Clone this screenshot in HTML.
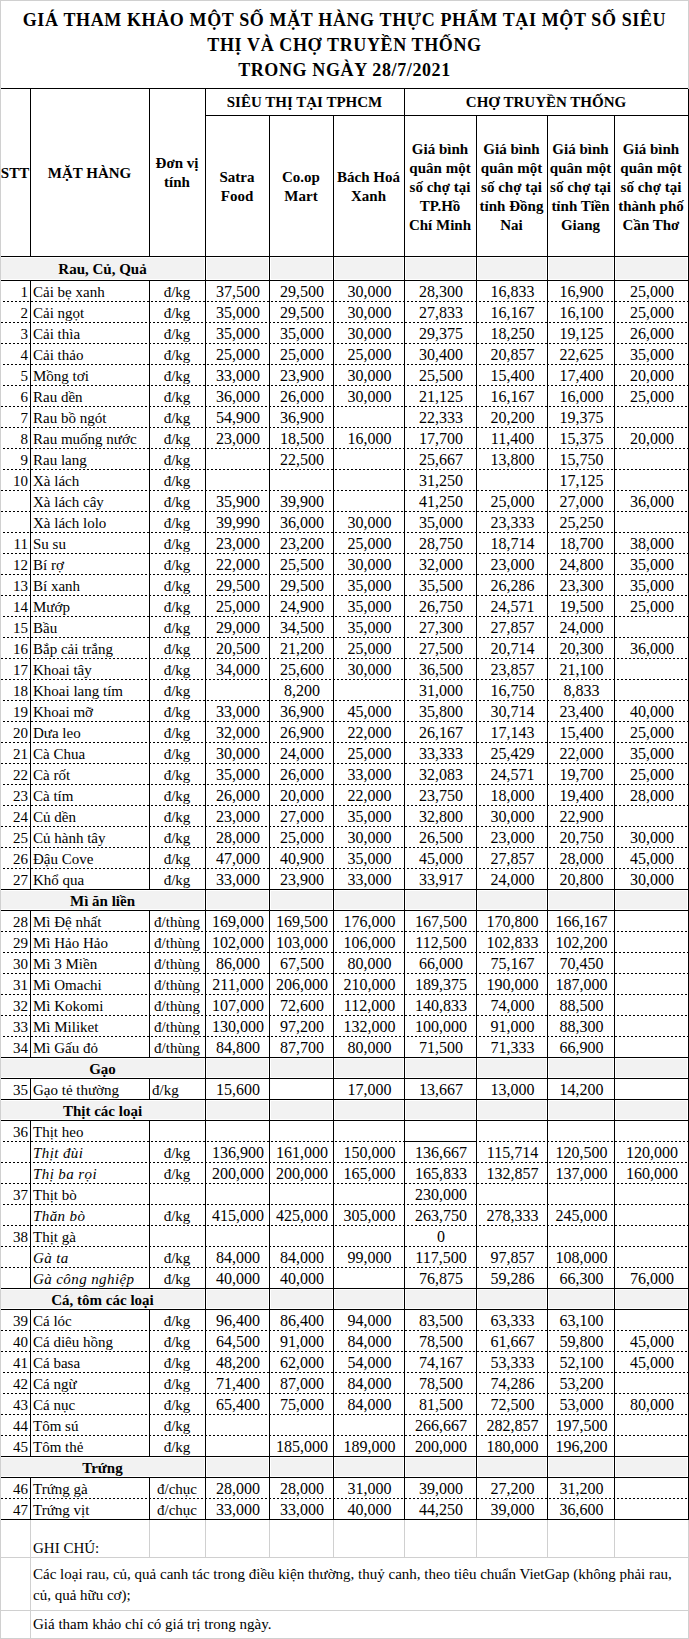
<!DOCTYPE html>
<html><head><meta charset="utf-8"><title>Giá tham khảo</title><style>
html,body{margin:0;padding:0;background:#fff}
body{width:689px;height:1639px;position:relative;overflow:hidden;font-family:'Liberation Serif', serif;font-size:15px;color:#000}
i{position:absolute;display:block}
i.d{height:1px;background-image:linear-gradient(90deg,#000 50%,transparent 50%);background-size:4px 1px;background-repeat:repeat-x}
b{position:absolute;display:block;height:30px;line-height:30px;white-space:nowrap;font-weight:normal}
b.h{font-weight:bold}
b.it{font-style:italic;letter-spacing:0.4px}
b.t{font-weight:bold;font-size:18px;letter-spacing:0.62px}
b.n{font-size:16px}
</style></head>
<body>
<b class="t" style="left:0px;top:5px;width:689px;text-align:center">GIÁ THAM KHẢO MỘT SỐ MẶT HÀNG THỰC PHẨM TẠI MỘT SỐ SIÊU</b><b class="t" style="left:0px;top:30px;width:689px;text-align:center">THỊ VÀ CHỢ TRUYỀN THỐNG</b><b class="t" style="left:0px;top:55px;width:689px;text-align:center">TRONG NGÀY 28/7/2021</b><i style="left:1px;top:88px;width:688px;height:1px;background:#000"></i><i style="left:205px;top:115px;width:484px;height:1px;background:#000"></i><i style="left:1px;top:256px;width:688px;height:1px;background:#000"></i><i style="left:30px;top:88px;width:1px;height:169px;background:#000"></i><i style="left:149px;top:88px;width:1px;height:169px;background:#000"></i><i style="left:205px;top:88px;width:1px;height:169px;background:#000"></i><i style="left:404px;top:88px;width:1px;height:169px;background:#000"></i><i style="left:688px;top:88px;width:1px;height:169px;background:#000"></i><i style="left:269px;top:115px;width:1px;height:142px;background:#000"></i><i style="left:333px;top:115px;width:1px;height:142px;background:#000"></i><i style="left:476px;top:115px;width:1px;height:142px;background:#000"></i><i style="left:547px;top:115px;width:1px;height:142px;background:#000"></i><i style="left:614px;top:115px;width:1px;height:142px;background:#000"></i><b class="h" style="left:205px;top:87px;width:199px;text-align:center">SIÊU THỊ TẠI TPHCM</b><b class="h" style="left:404px;top:87px;width:284px;text-align:center">CHỢ TRUYỀN THỐNG</b><b class="h" style="left:0px;top:158px;width:30px;text-align:center">STT</b><b class="h" style="left:30px;top:158px;width:119px;text-align:center">MẶT HÀNG</b><b class="h" style="left:149px;top:148px;width:56px;text-align:center">Đơn vị</b><b class="h" style="left:149px;top:167px;width:56px;text-align:center">tính</b><b class="h" style="left:205px;top:162px;width:64px;text-align:center">Satra</b><b class="h" style="left:205px;top:181px;width:64px;text-align:center">Food</b><b class="h" style="left:269px;top:162px;width:64px;text-align:center">Co.op</b><b class="h" style="left:269px;top:181px;width:64px;text-align:center">Mart</b><b class="h" style="left:333px;top:162px;width:71px;text-align:center">Bách Hoá</b><b class="h" style="left:333px;top:181px;width:71px;text-align:center">Xanh</b><b class="h" style="left:404px;top:134px;width:72px;text-align:center">Giá bình</b><b class="h" style="left:404px;top:153px;width:72px;text-align:center">quân một</b><b class="h" style="left:404px;top:172px;width:72px;text-align:center">số chợ tại</b><b class="h" style="left:404px;top:191px;width:72px;text-align:center">TP.Hồ</b><b class="h" style="left:404px;top:210px;width:72px;text-align:center">Chí Minh</b><b class="h" style="left:476px;top:134px;width:71px;text-align:center">Giá bình</b><b class="h" style="left:476px;top:153px;width:71px;text-align:center">quân một</b><b class="h" style="left:476px;top:172px;width:71px;text-align:center">số chợ tại</b><b class="h" style="left:476px;top:191px;width:71px;text-align:center">tỉnh Đồng</b><b class="h" style="left:476px;top:210px;width:71px;text-align:center">Nai</b><b class="h" style="left:547px;top:134px;width:67px;text-align:center">Giá bình</b><b class="h" style="left:547px;top:153px;width:67px;text-align:center">quân một</b><b class="h" style="left:547px;top:172px;width:67px;text-align:center">số chợ tại</b><b class="h" style="left:547px;top:191px;width:67px;text-align:center">tỉnh Tiền</b><b class="h" style="left:547px;top:210px;width:67px;text-align:center">Giang</b><b class="h" style="left:614px;top:134px;width:74px;text-align:center">Giá bình</b><b class="h" style="left:614px;top:153px;width:74px;text-align:center">quân một</b><b class="h" style="left:614px;top:172px;width:74px;text-align:center">số chợ tại</b><b class="h" style="left:614px;top:191px;width:74px;text-align:center">thành phố</b><b class="h" style="left:614px;top:210px;width:74px;text-align:center">Cần Thơ</b><i style="left:1px;top:258px;width:203px;height:21px;background:#f2f2f2"></i><i style="left:207px;top:258px;width:61px;height:21px;background:#f2f2f2"></i><i style="left:271px;top:258px;width:61px;height:21px;background:#f2f2f2"></i><i style="left:335px;top:258px;width:68px;height:21px;background:#f2f2f2"></i><i style="left:406px;top:258px;width:69px;height:21px;background:#f2f2f2"></i><i style="left:478px;top:258px;width:68px;height:21px;background:#f2f2f2"></i><i style="left:549px;top:258px;width:64px;height:21px;background:#f2f2f2"></i><i style="left:616px;top:258px;width:71px;height:21px;background:#f2f2f2"></i><i style="left:1px;top:256px;width:688px;height:1px;background:#000"></i><i style="left:1px;top:280px;width:688px;height:1px;background:#000"></i><i style="left:205px;top:256px;width:1px;height:25px;background:#000"></i><i style="left:269px;top:256px;width:1px;height:25px;background:#000"></i><i style="left:333px;top:256px;width:1px;height:25px;background:#000"></i><i style="left:404px;top:256px;width:1px;height:25px;background:#000"></i><i style="left:476px;top:256px;width:1px;height:25px;background:#000"></i><i style="left:547px;top:256px;width:1px;height:25px;background:#000"></i><i style="left:614px;top:256px;width:1px;height:25px;background:#000"></i><i style="left:688px;top:256px;width:1px;height:25px;background:#000"></i><b class="h" style="left:0px;top:254px;width:205px;text-align:center">Rau, Củ, Quả</b><i style="left:30px;top:280px;width:1px;height:22px;background:#000"></i><i style="left:149px;top:280px;width:1px;height:22px;background:#000"></i><i style="left:205px;top:280px;width:1px;height:22px;background:#000"></i><i style="left:269px;top:280px;width:1px;height:22px;background:#000"></i><i style="left:333px;top:280px;width:1px;height:22px;background:#000"></i><i style="left:404px;top:280px;width:1px;height:22px;background:#000"></i><i style="left:476px;top:280px;width:1px;height:22px;background:#000"></i><i style="left:547px;top:280px;width:1px;height:22px;background:#000"></i><i style="left:614px;top:280px;width:1px;height:22px;background:#000"></i><i style="left:688px;top:280px;width:1px;height:22px;background:#000"></i><b style="left:0px;top:277px;width:28px;text-align:right">1</b><b style="left:33px;top:277px;width:116px;text-align:left">Cải bẹ xanh</b><b style="left:149px;top:277px;width:56px;text-align:center">đ/kg</b><b class="n" style="left:206px;top:277px;width:64px;text-align:center">37,500</b><b class="n" style="left:270px;top:277px;width:64px;text-align:center">29,500</b><b class="n" style="left:334px;top:277px;width:71px;text-align:center">30,000</b><b class="n" style="left:405px;top:277px;width:72px;text-align:center">28,300</b><b class="n" style="left:477px;top:277px;width:71px;text-align:center">16,833</b><b class="n" style="left:548px;top:277px;width:67px;text-align:center">16,900</b><b class="n" style="left:615px;top:277px;width:74px;text-align:center">25,000</b><i class="d" style="left:1px;top:301px;width:687px;background-position:2px 0"></i><i style="left:30px;top:301px;width:1px;height:22px;background:#000"></i><i style="left:149px;top:301px;width:1px;height:22px;background:#000"></i><i style="left:205px;top:301px;width:1px;height:22px;background:#000"></i><i style="left:269px;top:301px;width:1px;height:22px;background:#000"></i><i style="left:333px;top:301px;width:1px;height:22px;background:#000"></i><i style="left:404px;top:301px;width:1px;height:22px;background:#000"></i><i style="left:476px;top:301px;width:1px;height:22px;background:#000"></i><i style="left:547px;top:301px;width:1px;height:22px;background:#000"></i><i style="left:614px;top:301px;width:1px;height:22px;background:#000"></i><i style="left:688px;top:301px;width:1px;height:22px;background:#000"></i><b style="left:0px;top:298px;width:28px;text-align:right">2</b><b style="left:33px;top:298px;width:116px;text-align:left">Cải ngọt</b><b style="left:149px;top:298px;width:56px;text-align:center">đ/kg</b><b class="n" style="left:206px;top:298px;width:64px;text-align:center">35,000</b><b class="n" style="left:270px;top:298px;width:64px;text-align:center">29,500</b><b class="n" style="left:334px;top:298px;width:71px;text-align:center">30,000</b><b class="n" style="left:405px;top:298px;width:72px;text-align:center">27,833</b><b class="n" style="left:477px;top:298px;width:71px;text-align:center">16,167</b><b class="n" style="left:548px;top:298px;width:67px;text-align:center">16,100</b><b class="n" style="left:615px;top:298px;width:74px;text-align:center">25,000</b><i class="d" style="left:1px;top:322px;width:687px;background-position:0px 0"></i><i style="left:30px;top:322px;width:1px;height:22px;background:#000"></i><i style="left:149px;top:322px;width:1px;height:22px;background:#000"></i><i style="left:205px;top:322px;width:1px;height:22px;background:#000"></i><i style="left:269px;top:322px;width:1px;height:22px;background:#000"></i><i style="left:333px;top:322px;width:1px;height:22px;background:#000"></i><i style="left:404px;top:322px;width:1px;height:22px;background:#000"></i><i style="left:476px;top:322px;width:1px;height:22px;background:#000"></i><i style="left:547px;top:322px;width:1px;height:22px;background:#000"></i><i style="left:614px;top:322px;width:1px;height:22px;background:#000"></i><i style="left:688px;top:322px;width:1px;height:22px;background:#000"></i><b style="left:0px;top:319px;width:28px;text-align:right">3</b><b style="left:33px;top:319px;width:116px;text-align:left">Cải thìa</b><b style="left:149px;top:319px;width:56px;text-align:center">đ/kg</b><b class="n" style="left:206px;top:319px;width:64px;text-align:center">35,000</b><b class="n" style="left:270px;top:319px;width:64px;text-align:center">35,000</b><b class="n" style="left:334px;top:319px;width:71px;text-align:center">30,000</b><b class="n" style="left:405px;top:319px;width:72px;text-align:center">29,375</b><b class="n" style="left:477px;top:319px;width:71px;text-align:center">18,250</b><b class="n" style="left:548px;top:319px;width:67px;text-align:center">19,125</b><b class="n" style="left:615px;top:319px;width:74px;text-align:center">26,000</b><i class="d" style="left:1px;top:343px;width:687px;background-position:0px 0"></i><i style="left:30px;top:343px;width:1px;height:22px;background:#000"></i><i style="left:149px;top:343px;width:1px;height:22px;background:#000"></i><i style="left:205px;top:343px;width:1px;height:22px;background:#000"></i><i style="left:269px;top:343px;width:1px;height:22px;background:#000"></i><i style="left:333px;top:343px;width:1px;height:22px;background:#000"></i><i style="left:404px;top:343px;width:1px;height:22px;background:#000"></i><i style="left:476px;top:343px;width:1px;height:22px;background:#000"></i><i style="left:547px;top:343px;width:1px;height:22px;background:#000"></i><i style="left:614px;top:343px;width:1px;height:22px;background:#000"></i><i style="left:688px;top:343px;width:1px;height:22px;background:#000"></i><b style="left:0px;top:340px;width:28px;text-align:right">4</b><b style="left:33px;top:340px;width:116px;text-align:left">Cải thảo</b><b style="left:149px;top:340px;width:56px;text-align:center">đ/kg</b><b class="n" style="left:206px;top:340px;width:64px;text-align:center">25,000</b><b class="n" style="left:270px;top:340px;width:64px;text-align:center">25,000</b><b class="n" style="left:334px;top:340px;width:71px;text-align:center">25,000</b><b class="n" style="left:405px;top:340px;width:72px;text-align:center">30,400</b><b class="n" style="left:477px;top:340px;width:71px;text-align:center">20,857</b><b class="n" style="left:548px;top:340px;width:67px;text-align:center">22,625</b><b class="n" style="left:615px;top:340px;width:74px;text-align:center">35,000</b><i class="d" style="left:1px;top:364px;width:687px;background-position:2px 0"></i><i style="left:30px;top:364px;width:1px;height:22px;background:#000"></i><i style="left:149px;top:364px;width:1px;height:22px;background:#000"></i><i style="left:205px;top:364px;width:1px;height:22px;background:#000"></i><i style="left:269px;top:364px;width:1px;height:22px;background:#000"></i><i style="left:333px;top:364px;width:1px;height:22px;background:#000"></i><i style="left:404px;top:364px;width:1px;height:22px;background:#000"></i><i style="left:476px;top:364px;width:1px;height:22px;background:#000"></i><i style="left:547px;top:364px;width:1px;height:22px;background:#000"></i><i style="left:614px;top:364px;width:1px;height:22px;background:#000"></i><i style="left:688px;top:364px;width:1px;height:22px;background:#000"></i><b style="left:0px;top:361px;width:28px;text-align:right">5</b><b style="left:33px;top:361px;width:116px;text-align:left">Mồng tơi</b><b style="left:149px;top:361px;width:56px;text-align:center">đ/kg</b><b class="n" style="left:206px;top:361px;width:64px;text-align:center">33,000</b><b class="n" style="left:270px;top:361px;width:64px;text-align:center">23,900</b><b class="n" style="left:334px;top:361px;width:71px;text-align:center">30,000</b><b class="n" style="left:405px;top:361px;width:72px;text-align:center">25,500</b><b class="n" style="left:477px;top:361px;width:71px;text-align:center">15,400</b><b class="n" style="left:548px;top:361px;width:67px;text-align:center">17,400</b><b class="n" style="left:615px;top:361px;width:74px;text-align:center">20,000</b><i class="d" style="left:1px;top:385px;width:687px;background-position:2px 0"></i><i style="left:30px;top:385px;width:1px;height:22px;background:#000"></i><i style="left:149px;top:385px;width:1px;height:22px;background:#000"></i><i style="left:205px;top:385px;width:1px;height:22px;background:#000"></i><i style="left:269px;top:385px;width:1px;height:22px;background:#000"></i><i style="left:333px;top:385px;width:1px;height:22px;background:#000"></i><i style="left:404px;top:385px;width:1px;height:22px;background:#000"></i><i style="left:476px;top:385px;width:1px;height:22px;background:#000"></i><i style="left:547px;top:385px;width:1px;height:22px;background:#000"></i><i style="left:614px;top:385px;width:1px;height:22px;background:#000"></i><i style="left:688px;top:385px;width:1px;height:22px;background:#000"></i><b style="left:0px;top:382px;width:28px;text-align:right">6</b><b style="left:33px;top:382px;width:116px;text-align:left">Rau dền</b><b style="left:149px;top:382px;width:56px;text-align:center">đ/kg</b><b class="n" style="left:206px;top:382px;width:64px;text-align:center">36,000</b><b class="n" style="left:270px;top:382px;width:64px;text-align:center">26,000</b><b class="n" style="left:334px;top:382px;width:71px;text-align:center">30,000</b><b class="n" style="left:405px;top:382px;width:72px;text-align:center">21,125</b><b class="n" style="left:477px;top:382px;width:71px;text-align:center">16,167</b><b class="n" style="left:548px;top:382px;width:67px;text-align:center">16,000</b><b class="n" style="left:615px;top:382px;width:74px;text-align:center">25,000</b><i class="d" style="left:1px;top:406px;width:687px;background-position:0px 0"></i><i style="left:30px;top:406px;width:1px;height:22px;background:#000"></i><i style="left:149px;top:406px;width:1px;height:22px;background:#000"></i><i style="left:205px;top:406px;width:1px;height:22px;background:#000"></i><i style="left:269px;top:406px;width:1px;height:22px;background:#000"></i><i style="left:333px;top:406px;width:1px;height:22px;background:#000"></i><i style="left:404px;top:406px;width:1px;height:22px;background:#000"></i><i style="left:476px;top:406px;width:1px;height:22px;background:#000"></i><i style="left:547px;top:406px;width:1px;height:22px;background:#000"></i><i style="left:614px;top:406px;width:1px;height:22px;background:#000"></i><i style="left:688px;top:406px;width:1px;height:22px;background:#000"></i><b style="left:0px;top:403px;width:28px;text-align:right">7</b><b style="left:33px;top:403px;width:116px;text-align:left">Rau bồ ngót</b><b style="left:149px;top:403px;width:56px;text-align:center">đ/kg</b><b class="n" style="left:206px;top:403px;width:64px;text-align:center">54,900</b><b class="n" style="left:270px;top:403px;width:64px;text-align:center">36,900</b><b class="n" style="left:405px;top:403px;width:72px;text-align:center">22,333</b><b class="n" style="left:477px;top:403px;width:71px;text-align:center">20,200</b><b class="n" style="left:548px;top:403px;width:67px;text-align:center">19,375</b><i class="d" style="left:1px;top:427px;width:687px;background-position:0px 0"></i><i style="left:30px;top:427px;width:1px;height:22px;background:#000"></i><i style="left:149px;top:427px;width:1px;height:22px;background:#000"></i><i style="left:205px;top:427px;width:1px;height:22px;background:#000"></i><i style="left:269px;top:427px;width:1px;height:22px;background:#000"></i><i style="left:333px;top:427px;width:1px;height:22px;background:#000"></i><i style="left:404px;top:427px;width:1px;height:22px;background:#000"></i><i style="left:476px;top:427px;width:1px;height:22px;background:#000"></i><i style="left:547px;top:427px;width:1px;height:22px;background:#000"></i><i style="left:614px;top:427px;width:1px;height:22px;background:#000"></i><i style="left:688px;top:427px;width:1px;height:22px;background:#000"></i><b style="left:0px;top:424px;width:28px;text-align:right">8</b><b style="left:33px;top:424px;width:116px;text-align:left">Rau muống nước</b><b style="left:149px;top:424px;width:56px;text-align:center">đ/kg</b><b class="n" style="left:206px;top:424px;width:64px;text-align:center">23,000</b><b class="n" style="left:270px;top:424px;width:64px;text-align:center">18,500</b><b class="n" style="left:334px;top:424px;width:71px;text-align:center">16,000</b><b class="n" style="left:405px;top:424px;width:72px;text-align:center">17,700</b><b class="n" style="left:477px;top:424px;width:71px;text-align:center">11,400</b><b class="n" style="left:548px;top:424px;width:67px;text-align:center">15,375</b><b class="n" style="left:615px;top:424px;width:74px;text-align:center">20,000</b><i class="d" style="left:1px;top:448px;width:687px;background-position:2px 0"></i><i style="left:30px;top:448px;width:1px;height:22px;background:#000"></i><i style="left:149px;top:448px;width:1px;height:22px;background:#000"></i><i style="left:205px;top:448px;width:1px;height:22px;background:#000"></i><i style="left:269px;top:448px;width:1px;height:22px;background:#000"></i><i style="left:333px;top:448px;width:1px;height:22px;background:#000"></i><i style="left:404px;top:448px;width:1px;height:22px;background:#000"></i><i style="left:476px;top:448px;width:1px;height:22px;background:#000"></i><i style="left:547px;top:448px;width:1px;height:22px;background:#000"></i><i style="left:614px;top:448px;width:1px;height:22px;background:#000"></i><i style="left:688px;top:448px;width:1px;height:22px;background:#000"></i><b style="left:0px;top:445px;width:28px;text-align:right">9</b><b style="left:33px;top:445px;width:116px;text-align:left">Rau lang</b><b style="left:149px;top:445px;width:56px;text-align:center">đ/kg</b><b class="n" style="left:270px;top:445px;width:64px;text-align:center">22,500</b><b class="n" style="left:405px;top:445px;width:72px;text-align:center">25,667</b><b class="n" style="left:477px;top:445px;width:71px;text-align:center">13,800</b><b class="n" style="left:548px;top:445px;width:67px;text-align:center">15,750</b><i class="d" style="left:1px;top:469px;width:687px;background-position:2px 0"></i><i style="left:30px;top:469px;width:1px;height:22px;background:#000"></i><i style="left:149px;top:469px;width:1px;height:22px;background:#000"></i><i style="left:205px;top:469px;width:1px;height:22px;background:#000"></i><i style="left:269px;top:469px;width:1px;height:22px;background:#000"></i><i style="left:333px;top:469px;width:1px;height:22px;background:#000"></i><i style="left:404px;top:469px;width:1px;height:22px;background:#000"></i><i style="left:476px;top:469px;width:1px;height:22px;background:#000"></i><i style="left:547px;top:469px;width:1px;height:22px;background:#000"></i><i style="left:614px;top:469px;width:1px;height:22px;background:#000"></i><i style="left:688px;top:469px;width:1px;height:22px;background:#000"></i><b style="left:0px;top:466px;width:28px;text-align:right">10</b><b style="left:33px;top:466px;width:116px;text-align:left">Xà lách</b><b style="left:149px;top:466px;width:56px;text-align:center">đ/kg</b><b class="n" style="left:405px;top:466px;width:72px;text-align:center">31,250</b><b class="n" style="left:548px;top:466px;width:67px;text-align:center">17,125</b><i class="d" style="left:1px;top:490px;width:687px;background-position:0px 0"></i><i style="left:30px;top:490px;width:1px;height:22px;background:#000"></i><i style="left:149px;top:490px;width:1px;height:22px;background:#000"></i><i style="left:205px;top:490px;width:1px;height:22px;background:#000"></i><i style="left:269px;top:490px;width:1px;height:22px;background:#000"></i><i style="left:333px;top:490px;width:1px;height:22px;background:#000"></i><i style="left:404px;top:490px;width:1px;height:22px;background:#000"></i><i style="left:476px;top:490px;width:1px;height:22px;background:#000"></i><i style="left:547px;top:490px;width:1px;height:22px;background:#000"></i><i style="left:614px;top:490px;width:1px;height:22px;background:#000"></i><i style="left:688px;top:490px;width:1px;height:22px;background:#000"></i><b style="left:33px;top:487px;width:116px;text-align:left">Xà lách cây</b><b style="left:149px;top:487px;width:56px;text-align:center">đ/kg</b><b class="n" style="left:206px;top:487px;width:64px;text-align:center">35,900</b><b class="n" style="left:270px;top:487px;width:64px;text-align:center">39,900</b><b class="n" style="left:405px;top:487px;width:72px;text-align:center">41,250</b><b class="n" style="left:477px;top:487px;width:71px;text-align:center">25,000</b><b class="n" style="left:548px;top:487px;width:67px;text-align:center">27,000</b><b class="n" style="left:615px;top:487px;width:74px;text-align:center">36,000</b><i class="d" style="left:1px;top:511px;width:687px;background-position:0px 0"></i><i style="left:30px;top:511px;width:1px;height:22px;background:#000"></i><i style="left:149px;top:511px;width:1px;height:22px;background:#000"></i><i style="left:205px;top:511px;width:1px;height:22px;background:#000"></i><i style="left:269px;top:511px;width:1px;height:22px;background:#000"></i><i style="left:333px;top:511px;width:1px;height:22px;background:#000"></i><i style="left:404px;top:511px;width:1px;height:22px;background:#000"></i><i style="left:476px;top:511px;width:1px;height:22px;background:#000"></i><i style="left:547px;top:511px;width:1px;height:22px;background:#000"></i><i style="left:614px;top:511px;width:1px;height:22px;background:#000"></i><i style="left:688px;top:511px;width:1px;height:22px;background:#000"></i><b style="left:33px;top:508px;width:116px;text-align:left">Xà lách lolo</b><b style="left:149px;top:508px;width:56px;text-align:center">đ/kg</b><b class="n" style="left:206px;top:508px;width:64px;text-align:center">39,990</b><b class="n" style="left:270px;top:508px;width:64px;text-align:center">36,000</b><b class="n" style="left:334px;top:508px;width:71px;text-align:center">30,000</b><b class="n" style="left:405px;top:508px;width:72px;text-align:center">35,000</b><b class="n" style="left:477px;top:508px;width:71px;text-align:center">23,333</b><b class="n" style="left:548px;top:508px;width:67px;text-align:center">25,250</b><i class="d" style="left:1px;top:532px;width:687px;background-position:2px 0"></i><i style="left:30px;top:532px;width:1px;height:22px;background:#000"></i><i style="left:149px;top:532px;width:1px;height:22px;background:#000"></i><i style="left:205px;top:532px;width:1px;height:22px;background:#000"></i><i style="left:269px;top:532px;width:1px;height:22px;background:#000"></i><i style="left:333px;top:532px;width:1px;height:22px;background:#000"></i><i style="left:404px;top:532px;width:1px;height:22px;background:#000"></i><i style="left:476px;top:532px;width:1px;height:22px;background:#000"></i><i style="left:547px;top:532px;width:1px;height:22px;background:#000"></i><i style="left:614px;top:532px;width:1px;height:22px;background:#000"></i><i style="left:688px;top:532px;width:1px;height:22px;background:#000"></i><b style="left:0px;top:529px;width:28px;text-align:right">11</b><b style="left:33px;top:529px;width:116px;text-align:left">Su su</b><b style="left:149px;top:529px;width:56px;text-align:center">đ/kg</b><b class="n" style="left:206px;top:529px;width:64px;text-align:center">23,000</b><b class="n" style="left:270px;top:529px;width:64px;text-align:center">23,200</b><b class="n" style="left:334px;top:529px;width:71px;text-align:center">25,000</b><b class="n" style="left:405px;top:529px;width:72px;text-align:center">28,750</b><b class="n" style="left:477px;top:529px;width:71px;text-align:center">18,714</b><b class="n" style="left:548px;top:529px;width:67px;text-align:center">18,700</b><b class="n" style="left:615px;top:529px;width:74px;text-align:center">38,000</b><i class="d" style="left:1px;top:553px;width:687px;background-position:2px 0"></i><i style="left:30px;top:553px;width:1px;height:22px;background:#000"></i><i style="left:149px;top:553px;width:1px;height:22px;background:#000"></i><i style="left:205px;top:553px;width:1px;height:22px;background:#000"></i><i style="left:269px;top:553px;width:1px;height:22px;background:#000"></i><i style="left:333px;top:553px;width:1px;height:22px;background:#000"></i><i style="left:404px;top:553px;width:1px;height:22px;background:#000"></i><i style="left:476px;top:553px;width:1px;height:22px;background:#000"></i><i style="left:547px;top:553px;width:1px;height:22px;background:#000"></i><i style="left:614px;top:553px;width:1px;height:22px;background:#000"></i><i style="left:688px;top:553px;width:1px;height:22px;background:#000"></i><b style="left:0px;top:550px;width:28px;text-align:right">12</b><b style="left:33px;top:550px;width:116px;text-align:left">Bí rợ</b><b style="left:149px;top:550px;width:56px;text-align:center">đ/kg</b><b class="n" style="left:206px;top:550px;width:64px;text-align:center">22,000</b><b class="n" style="left:270px;top:550px;width:64px;text-align:center">25,500</b><b class="n" style="left:334px;top:550px;width:71px;text-align:center">30,000</b><b class="n" style="left:405px;top:550px;width:72px;text-align:center">32,000</b><b class="n" style="left:477px;top:550px;width:71px;text-align:center">23,000</b><b class="n" style="left:548px;top:550px;width:67px;text-align:center">24,800</b><b class="n" style="left:615px;top:550px;width:74px;text-align:center">35,000</b><i class="d" style="left:1px;top:574px;width:687px;background-position:0px 0"></i><i style="left:30px;top:574px;width:1px;height:22px;background:#000"></i><i style="left:149px;top:574px;width:1px;height:22px;background:#000"></i><i style="left:205px;top:574px;width:1px;height:22px;background:#000"></i><i style="left:269px;top:574px;width:1px;height:22px;background:#000"></i><i style="left:333px;top:574px;width:1px;height:22px;background:#000"></i><i style="left:404px;top:574px;width:1px;height:22px;background:#000"></i><i style="left:476px;top:574px;width:1px;height:22px;background:#000"></i><i style="left:547px;top:574px;width:1px;height:22px;background:#000"></i><i style="left:614px;top:574px;width:1px;height:22px;background:#000"></i><i style="left:688px;top:574px;width:1px;height:22px;background:#000"></i><b style="left:0px;top:571px;width:28px;text-align:right">13</b><b style="left:33px;top:571px;width:116px;text-align:left">Bí xanh</b><b style="left:149px;top:571px;width:56px;text-align:center">đ/kg</b><b class="n" style="left:206px;top:571px;width:64px;text-align:center">29,500</b><b class="n" style="left:270px;top:571px;width:64px;text-align:center">29,500</b><b class="n" style="left:334px;top:571px;width:71px;text-align:center">35,000</b><b class="n" style="left:405px;top:571px;width:72px;text-align:center">35,500</b><b class="n" style="left:477px;top:571px;width:71px;text-align:center">26,286</b><b class="n" style="left:548px;top:571px;width:67px;text-align:center">23,300</b><b class="n" style="left:615px;top:571px;width:74px;text-align:center">35,000</b><i class="d" style="left:1px;top:595px;width:687px;background-position:0px 0"></i><i style="left:30px;top:595px;width:1px;height:22px;background:#000"></i><i style="left:149px;top:595px;width:1px;height:22px;background:#000"></i><i style="left:205px;top:595px;width:1px;height:22px;background:#000"></i><i style="left:269px;top:595px;width:1px;height:22px;background:#000"></i><i style="left:333px;top:595px;width:1px;height:22px;background:#000"></i><i style="left:404px;top:595px;width:1px;height:22px;background:#000"></i><i style="left:476px;top:595px;width:1px;height:22px;background:#000"></i><i style="left:547px;top:595px;width:1px;height:22px;background:#000"></i><i style="left:614px;top:595px;width:1px;height:22px;background:#000"></i><i style="left:688px;top:595px;width:1px;height:22px;background:#000"></i><b style="left:0px;top:592px;width:28px;text-align:right">14</b><b style="left:33px;top:592px;width:116px;text-align:left">Mướp</b><b style="left:149px;top:592px;width:56px;text-align:center">đ/kg</b><b class="n" style="left:206px;top:592px;width:64px;text-align:center">25,000</b><b class="n" style="left:270px;top:592px;width:64px;text-align:center">24,900</b><b class="n" style="left:334px;top:592px;width:71px;text-align:center">35,000</b><b class="n" style="left:405px;top:592px;width:72px;text-align:center">26,750</b><b class="n" style="left:477px;top:592px;width:71px;text-align:center">24,571</b><b class="n" style="left:548px;top:592px;width:67px;text-align:center">19,500</b><b class="n" style="left:615px;top:592px;width:74px;text-align:center">25,000</b><i class="d" style="left:1px;top:616px;width:687px;background-position:2px 0"></i><i style="left:30px;top:616px;width:1px;height:22px;background:#000"></i><i style="left:149px;top:616px;width:1px;height:22px;background:#000"></i><i style="left:205px;top:616px;width:1px;height:22px;background:#000"></i><i style="left:269px;top:616px;width:1px;height:22px;background:#000"></i><i style="left:333px;top:616px;width:1px;height:22px;background:#000"></i><i style="left:404px;top:616px;width:1px;height:22px;background:#000"></i><i style="left:476px;top:616px;width:1px;height:22px;background:#000"></i><i style="left:547px;top:616px;width:1px;height:22px;background:#000"></i><i style="left:614px;top:616px;width:1px;height:22px;background:#000"></i><i style="left:688px;top:616px;width:1px;height:22px;background:#000"></i><b style="left:0px;top:613px;width:28px;text-align:right">15</b><b style="left:33px;top:613px;width:116px;text-align:left">Bầu</b><b style="left:149px;top:613px;width:56px;text-align:center">đ/kg</b><b class="n" style="left:206px;top:613px;width:64px;text-align:center">29,000</b><b class="n" style="left:270px;top:613px;width:64px;text-align:center">34,500</b><b class="n" style="left:334px;top:613px;width:71px;text-align:center">35,000</b><b class="n" style="left:405px;top:613px;width:72px;text-align:center">27,300</b><b class="n" style="left:477px;top:613px;width:71px;text-align:center">27,857</b><b class="n" style="left:548px;top:613px;width:67px;text-align:center">24,000</b><i class="d" style="left:1px;top:637px;width:687px;background-position:2px 0"></i><i style="left:30px;top:637px;width:1px;height:22px;background:#000"></i><i style="left:149px;top:637px;width:1px;height:22px;background:#000"></i><i style="left:205px;top:637px;width:1px;height:22px;background:#000"></i><i style="left:269px;top:637px;width:1px;height:22px;background:#000"></i><i style="left:333px;top:637px;width:1px;height:22px;background:#000"></i><i style="left:404px;top:637px;width:1px;height:22px;background:#000"></i><i style="left:476px;top:637px;width:1px;height:22px;background:#000"></i><i style="left:547px;top:637px;width:1px;height:22px;background:#000"></i><i style="left:614px;top:637px;width:1px;height:22px;background:#000"></i><i style="left:688px;top:637px;width:1px;height:22px;background:#000"></i><b style="left:0px;top:634px;width:28px;text-align:right">16</b><b style="left:33px;top:634px;width:116px;text-align:left">Bắp cải trắng</b><b style="left:149px;top:634px;width:56px;text-align:center">đ/kg</b><b class="n" style="left:206px;top:634px;width:64px;text-align:center">20,500</b><b class="n" style="left:270px;top:634px;width:64px;text-align:center">21,200</b><b class="n" style="left:334px;top:634px;width:71px;text-align:center">25,000</b><b class="n" style="left:405px;top:634px;width:72px;text-align:center">27,500</b><b class="n" style="left:477px;top:634px;width:71px;text-align:center">20,714</b><b class="n" style="left:548px;top:634px;width:67px;text-align:center">20,300</b><b class="n" style="left:615px;top:634px;width:74px;text-align:center">36,000</b><i class="d" style="left:1px;top:658px;width:687px;background-position:0px 0"></i><i style="left:30px;top:658px;width:1px;height:22px;background:#000"></i><i style="left:149px;top:658px;width:1px;height:22px;background:#000"></i><i style="left:205px;top:658px;width:1px;height:22px;background:#000"></i><i style="left:269px;top:658px;width:1px;height:22px;background:#000"></i><i style="left:333px;top:658px;width:1px;height:22px;background:#000"></i><i style="left:404px;top:658px;width:1px;height:22px;background:#000"></i><i style="left:476px;top:658px;width:1px;height:22px;background:#000"></i><i style="left:547px;top:658px;width:1px;height:22px;background:#000"></i><i style="left:614px;top:658px;width:1px;height:22px;background:#000"></i><i style="left:688px;top:658px;width:1px;height:22px;background:#000"></i><b style="left:0px;top:655px;width:28px;text-align:right">17</b><b style="left:33px;top:655px;width:116px;text-align:left">Khoai tây</b><b style="left:149px;top:655px;width:56px;text-align:center">đ/kg</b><b class="n" style="left:206px;top:655px;width:64px;text-align:center">34,000</b><b class="n" style="left:270px;top:655px;width:64px;text-align:center">25,600</b><b class="n" style="left:334px;top:655px;width:71px;text-align:center">30,000</b><b class="n" style="left:405px;top:655px;width:72px;text-align:center">36,500</b><b class="n" style="left:477px;top:655px;width:71px;text-align:center">23,857</b><b class="n" style="left:548px;top:655px;width:67px;text-align:center">21,100</b><i class="d" style="left:1px;top:679px;width:687px;background-position:0px 0"></i><i style="left:30px;top:679px;width:1px;height:22px;background:#000"></i><i style="left:149px;top:679px;width:1px;height:22px;background:#000"></i><i style="left:205px;top:679px;width:1px;height:22px;background:#000"></i><i style="left:269px;top:679px;width:1px;height:22px;background:#000"></i><i style="left:333px;top:679px;width:1px;height:22px;background:#000"></i><i style="left:404px;top:679px;width:1px;height:22px;background:#000"></i><i style="left:476px;top:679px;width:1px;height:22px;background:#000"></i><i style="left:547px;top:679px;width:1px;height:22px;background:#000"></i><i style="left:614px;top:679px;width:1px;height:22px;background:#000"></i><i style="left:688px;top:679px;width:1px;height:22px;background:#000"></i><b style="left:0px;top:676px;width:28px;text-align:right">18</b><b style="left:33px;top:676px;width:116px;text-align:left">Khoai lang tím</b><b style="left:149px;top:676px;width:56px;text-align:center">đ/kg</b><b class="n" style="left:270px;top:676px;width:64px;text-align:center">8,200</b><b class="n" style="left:405px;top:676px;width:72px;text-align:center">31,000</b><b class="n" style="left:477px;top:676px;width:71px;text-align:center">16,750</b><b class="n" style="left:548px;top:676px;width:67px;text-align:center">8,833</b><i class="d" style="left:1px;top:700px;width:687px;background-position:2px 0"></i><i style="left:30px;top:700px;width:1px;height:22px;background:#000"></i><i style="left:149px;top:700px;width:1px;height:22px;background:#000"></i><i style="left:205px;top:700px;width:1px;height:22px;background:#000"></i><i style="left:269px;top:700px;width:1px;height:22px;background:#000"></i><i style="left:333px;top:700px;width:1px;height:22px;background:#000"></i><i style="left:404px;top:700px;width:1px;height:22px;background:#000"></i><i style="left:476px;top:700px;width:1px;height:22px;background:#000"></i><i style="left:547px;top:700px;width:1px;height:22px;background:#000"></i><i style="left:614px;top:700px;width:1px;height:22px;background:#000"></i><i style="left:688px;top:700px;width:1px;height:22px;background:#000"></i><b style="left:0px;top:697px;width:28px;text-align:right">19</b><b style="left:33px;top:697px;width:116px;text-align:left">Khoai mỡ</b><b style="left:149px;top:697px;width:56px;text-align:center">đ/kg</b><b class="n" style="left:206px;top:697px;width:64px;text-align:center">33,000</b><b class="n" style="left:270px;top:697px;width:64px;text-align:center">36,900</b><b class="n" style="left:334px;top:697px;width:71px;text-align:center">45,000</b><b class="n" style="left:405px;top:697px;width:72px;text-align:center">35,800</b><b class="n" style="left:477px;top:697px;width:71px;text-align:center">30,714</b><b class="n" style="left:548px;top:697px;width:67px;text-align:center">23,400</b><b class="n" style="left:615px;top:697px;width:74px;text-align:center">40,000</b><i class="d" style="left:1px;top:721px;width:687px;background-position:2px 0"></i><i style="left:30px;top:721px;width:1px;height:22px;background:#000"></i><i style="left:149px;top:721px;width:1px;height:22px;background:#000"></i><i style="left:205px;top:721px;width:1px;height:22px;background:#000"></i><i style="left:269px;top:721px;width:1px;height:22px;background:#000"></i><i style="left:333px;top:721px;width:1px;height:22px;background:#000"></i><i style="left:404px;top:721px;width:1px;height:22px;background:#000"></i><i style="left:476px;top:721px;width:1px;height:22px;background:#000"></i><i style="left:547px;top:721px;width:1px;height:22px;background:#000"></i><i style="left:614px;top:721px;width:1px;height:22px;background:#000"></i><i style="left:688px;top:721px;width:1px;height:22px;background:#000"></i><b style="left:0px;top:718px;width:28px;text-align:right">20</b><b style="left:33px;top:718px;width:116px;text-align:left">Dưa leo</b><b style="left:149px;top:718px;width:56px;text-align:center">đ/kg</b><b class="n" style="left:206px;top:718px;width:64px;text-align:center">32,000</b><b class="n" style="left:270px;top:718px;width:64px;text-align:center">26,900</b><b class="n" style="left:334px;top:718px;width:71px;text-align:center">22,000</b><b class="n" style="left:405px;top:718px;width:72px;text-align:center">26,167</b><b class="n" style="left:477px;top:718px;width:71px;text-align:center">17,143</b><b class="n" style="left:548px;top:718px;width:67px;text-align:center">15,400</b><b class="n" style="left:615px;top:718px;width:74px;text-align:center">25,000</b><i class="d" style="left:1px;top:742px;width:687px;background-position:0px 0"></i><i style="left:30px;top:742px;width:1px;height:22px;background:#000"></i><i style="left:149px;top:742px;width:1px;height:22px;background:#000"></i><i style="left:205px;top:742px;width:1px;height:22px;background:#000"></i><i style="left:269px;top:742px;width:1px;height:22px;background:#000"></i><i style="left:333px;top:742px;width:1px;height:22px;background:#000"></i><i style="left:404px;top:742px;width:1px;height:22px;background:#000"></i><i style="left:476px;top:742px;width:1px;height:22px;background:#000"></i><i style="left:547px;top:742px;width:1px;height:22px;background:#000"></i><i style="left:614px;top:742px;width:1px;height:22px;background:#000"></i><i style="left:688px;top:742px;width:1px;height:22px;background:#000"></i><b style="left:0px;top:739px;width:28px;text-align:right">21</b><b style="left:33px;top:739px;width:116px;text-align:left">Cà Chua</b><b style="left:149px;top:739px;width:56px;text-align:center">đ/kg</b><b class="n" style="left:206px;top:739px;width:64px;text-align:center">30,000</b><b class="n" style="left:270px;top:739px;width:64px;text-align:center">24,000</b><b class="n" style="left:334px;top:739px;width:71px;text-align:center">25,000</b><b class="n" style="left:405px;top:739px;width:72px;text-align:center">33,333</b><b class="n" style="left:477px;top:739px;width:71px;text-align:center">25,429</b><b class="n" style="left:548px;top:739px;width:67px;text-align:center">22,000</b><b class="n" style="left:615px;top:739px;width:74px;text-align:center">35,000</b><i class="d" style="left:1px;top:763px;width:687px;background-position:0px 0"></i><i style="left:30px;top:763px;width:1px;height:22px;background:#000"></i><i style="left:149px;top:763px;width:1px;height:22px;background:#000"></i><i style="left:205px;top:763px;width:1px;height:22px;background:#000"></i><i style="left:269px;top:763px;width:1px;height:22px;background:#000"></i><i style="left:333px;top:763px;width:1px;height:22px;background:#000"></i><i style="left:404px;top:763px;width:1px;height:22px;background:#000"></i><i style="left:476px;top:763px;width:1px;height:22px;background:#000"></i><i style="left:547px;top:763px;width:1px;height:22px;background:#000"></i><i style="left:614px;top:763px;width:1px;height:22px;background:#000"></i><i style="left:688px;top:763px;width:1px;height:22px;background:#000"></i><b style="left:0px;top:760px;width:28px;text-align:right">22</b><b style="left:33px;top:760px;width:116px;text-align:left">Cà rốt</b><b style="left:149px;top:760px;width:56px;text-align:center">đ/kg</b><b class="n" style="left:206px;top:760px;width:64px;text-align:center">35,000</b><b class="n" style="left:270px;top:760px;width:64px;text-align:center">26,000</b><b class="n" style="left:334px;top:760px;width:71px;text-align:center">33,000</b><b class="n" style="left:405px;top:760px;width:72px;text-align:center">32,083</b><b class="n" style="left:477px;top:760px;width:71px;text-align:center">24,571</b><b class="n" style="left:548px;top:760px;width:67px;text-align:center">19,700</b><b class="n" style="left:615px;top:760px;width:74px;text-align:center">25,000</b><i class="d" style="left:1px;top:784px;width:687px;background-position:2px 0"></i><i style="left:30px;top:784px;width:1px;height:22px;background:#000"></i><i style="left:149px;top:784px;width:1px;height:22px;background:#000"></i><i style="left:205px;top:784px;width:1px;height:22px;background:#000"></i><i style="left:269px;top:784px;width:1px;height:22px;background:#000"></i><i style="left:333px;top:784px;width:1px;height:22px;background:#000"></i><i style="left:404px;top:784px;width:1px;height:22px;background:#000"></i><i style="left:476px;top:784px;width:1px;height:22px;background:#000"></i><i style="left:547px;top:784px;width:1px;height:22px;background:#000"></i><i style="left:614px;top:784px;width:1px;height:22px;background:#000"></i><i style="left:688px;top:784px;width:1px;height:22px;background:#000"></i><b style="left:0px;top:781px;width:28px;text-align:right">23</b><b style="left:33px;top:781px;width:116px;text-align:left">Cà tím</b><b style="left:149px;top:781px;width:56px;text-align:center">đ/kg</b><b class="n" style="left:206px;top:781px;width:64px;text-align:center">26,000</b><b class="n" style="left:270px;top:781px;width:64px;text-align:center">20,000</b><b class="n" style="left:334px;top:781px;width:71px;text-align:center">22,000</b><b class="n" style="left:405px;top:781px;width:72px;text-align:center">23,750</b><b class="n" style="left:477px;top:781px;width:71px;text-align:center">18,000</b><b class="n" style="left:548px;top:781px;width:67px;text-align:center">19,400</b><b class="n" style="left:615px;top:781px;width:74px;text-align:center">28,000</b><i class="d" style="left:1px;top:805px;width:687px;background-position:2px 0"></i><i style="left:30px;top:805px;width:1px;height:22px;background:#000"></i><i style="left:149px;top:805px;width:1px;height:22px;background:#000"></i><i style="left:205px;top:805px;width:1px;height:22px;background:#000"></i><i style="left:269px;top:805px;width:1px;height:22px;background:#000"></i><i style="left:333px;top:805px;width:1px;height:22px;background:#000"></i><i style="left:404px;top:805px;width:1px;height:22px;background:#000"></i><i style="left:476px;top:805px;width:1px;height:22px;background:#000"></i><i style="left:547px;top:805px;width:1px;height:22px;background:#000"></i><i style="left:614px;top:805px;width:1px;height:22px;background:#000"></i><i style="left:688px;top:805px;width:1px;height:22px;background:#000"></i><b style="left:0px;top:802px;width:28px;text-align:right">24</b><b style="left:33px;top:802px;width:116px;text-align:left">Củ dền</b><b style="left:149px;top:802px;width:56px;text-align:center">đ/kg</b><b class="n" style="left:206px;top:802px;width:64px;text-align:center">23,000</b><b class="n" style="left:270px;top:802px;width:64px;text-align:center">27,000</b><b class="n" style="left:334px;top:802px;width:71px;text-align:center">35,000</b><b class="n" style="left:405px;top:802px;width:72px;text-align:center">32,800</b><b class="n" style="left:477px;top:802px;width:71px;text-align:center">30,000</b><b class="n" style="left:548px;top:802px;width:67px;text-align:center">22,900</b><i class="d" style="left:1px;top:826px;width:687px;background-position:0px 0"></i><i style="left:30px;top:826px;width:1px;height:22px;background:#000"></i><i style="left:149px;top:826px;width:1px;height:22px;background:#000"></i><i style="left:205px;top:826px;width:1px;height:22px;background:#000"></i><i style="left:269px;top:826px;width:1px;height:22px;background:#000"></i><i style="left:333px;top:826px;width:1px;height:22px;background:#000"></i><i style="left:404px;top:826px;width:1px;height:22px;background:#000"></i><i style="left:476px;top:826px;width:1px;height:22px;background:#000"></i><i style="left:547px;top:826px;width:1px;height:22px;background:#000"></i><i style="left:614px;top:826px;width:1px;height:22px;background:#000"></i><i style="left:688px;top:826px;width:1px;height:22px;background:#000"></i><b style="left:0px;top:823px;width:28px;text-align:right">25</b><b style="left:33px;top:823px;width:116px;text-align:left">Củ hành tây</b><b style="left:149px;top:823px;width:56px;text-align:center">đ/kg</b><b class="n" style="left:206px;top:823px;width:64px;text-align:center">28,000</b><b class="n" style="left:270px;top:823px;width:64px;text-align:center">25,000</b><b class="n" style="left:334px;top:823px;width:71px;text-align:center">30,000</b><b class="n" style="left:405px;top:823px;width:72px;text-align:center">26,500</b><b class="n" style="left:477px;top:823px;width:71px;text-align:center">23,000</b><b class="n" style="left:548px;top:823px;width:67px;text-align:center">20,750</b><b class="n" style="left:615px;top:823px;width:74px;text-align:center">30,000</b><i class="d" style="left:1px;top:847px;width:687px;background-position:0px 0"></i><i style="left:30px;top:847px;width:1px;height:22px;background:#000"></i><i style="left:149px;top:847px;width:1px;height:22px;background:#000"></i><i style="left:205px;top:847px;width:1px;height:22px;background:#000"></i><i style="left:269px;top:847px;width:1px;height:22px;background:#000"></i><i style="left:333px;top:847px;width:1px;height:22px;background:#000"></i><i style="left:404px;top:847px;width:1px;height:22px;background:#000"></i><i style="left:476px;top:847px;width:1px;height:22px;background:#000"></i><i style="left:547px;top:847px;width:1px;height:22px;background:#000"></i><i style="left:614px;top:847px;width:1px;height:22px;background:#000"></i><i style="left:688px;top:847px;width:1px;height:22px;background:#000"></i><b style="left:0px;top:844px;width:28px;text-align:right">26</b><b style="left:33px;top:844px;width:116px;text-align:left">Đậu Cove</b><b style="left:149px;top:844px;width:56px;text-align:center">đ/kg</b><b class="n" style="left:206px;top:844px;width:64px;text-align:center">47,000</b><b class="n" style="left:270px;top:844px;width:64px;text-align:center">40,900</b><b class="n" style="left:334px;top:844px;width:71px;text-align:center">35,000</b><b class="n" style="left:405px;top:844px;width:72px;text-align:center">45,000</b><b class="n" style="left:477px;top:844px;width:71px;text-align:center">27,857</b><b class="n" style="left:548px;top:844px;width:67px;text-align:center">28,000</b><b class="n" style="left:615px;top:844px;width:74px;text-align:center">45,000</b><i class="d" style="left:1px;top:868px;width:687px;background-position:2px 0"></i><i style="left:30px;top:868px;width:1px;height:22px;background:#000"></i><i style="left:149px;top:868px;width:1px;height:22px;background:#000"></i><i style="left:205px;top:868px;width:1px;height:22px;background:#000"></i><i style="left:269px;top:868px;width:1px;height:22px;background:#000"></i><i style="left:333px;top:868px;width:1px;height:22px;background:#000"></i><i style="left:404px;top:868px;width:1px;height:22px;background:#000"></i><i style="left:476px;top:868px;width:1px;height:22px;background:#000"></i><i style="left:547px;top:868px;width:1px;height:22px;background:#000"></i><i style="left:614px;top:868px;width:1px;height:22px;background:#000"></i><i style="left:688px;top:868px;width:1px;height:22px;background:#000"></i><b style="left:0px;top:865px;width:28px;text-align:right">27</b><b style="left:33px;top:865px;width:116px;text-align:left">Khổ qua</b><b style="left:149px;top:865px;width:56px;text-align:center">đ/kg</b><b class="n" style="left:206px;top:865px;width:64px;text-align:center">33,000</b><b class="n" style="left:270px;top:865px;width:64px;text-align:center">23,900</b><b class="n" style="left:334px;top:865px;width:71px;text-align:center">33,000</b><b class="n" style="left:405px;top:865px;width:72px;text-align:center">33,917</b><b class="n" style="left:477px;top:865px;width:71px;text-align:center">24,000</b><b class="n" style="left:548px;top:865px;width:67px;text-align:center">20,800</b><b class="n" style="left:615px;top:865px;width:74px;text-align:center">30,000</b><i style="left:1px;top:891px;width:203px;height:18px;background:#f2f2f2"></i><i style="left:207px;top:891px;width:61px;height:18px;background:#f2f2f2"></i><i style="left:271px;top:891px;width:61px;height:18px;background:#f2f2f2"></i><i style="left:335px;top:891px;width:68px;height:18px;background:#f2f2f2"></i><i style="left:406px;top:891px;width:69px;height:18px;background:#f2f2f2"></i><i style="left:478px;top:891px;width:68px;height:18px;background:#f2f2f2"></i><i style="left:549px;top:891px;width:64px;height:18px;background:#f2f2f2"></i><i style="left:616px;top:891px;width:71px;height:18px;background:#f2f2f2"></i><i style="left:1px;top:889px;width:688px;height:1px;background:#000"></i><i style="left:1px;top:910px;width:688px;height:1px;background:#000"></i><i style="left:205px;top:889px;width:1px;height:22px;background:#000"></i><i style="left:269px;top:889px;width:1px;height:22px;background:#000"></i><i style="left:333px;top:889px;width:1px;height:22px;background:#000"></i><i style="left:404px;top:889px;width:1px;height:22px;background:#000"></i><i style="left:476px;top:889px;width:1px;height:22px;background:#000"></i><i style="left:547px;top:889px;width:1px;height:22px;background:#000"></i><i style="left:614px;top:889px;width:1px;height:22px;background:#000"></i><i style="left:688px;top:889px;width:1px;height:22px;background:#000"></i><b class="h" style="left:0px;top:886px;width:205px;text-align:center">Mì ăn liền</b><i style="left:30px;top:910px;width:1px;height:22px;background:#000"></i><i style="left:149px;top:910px;width:1px;height:22px;background:#000"></i><i style="left:205px;top:910px;width:1px;height:22px;background:#000"></i><i style="left:269px;top:910px;width:1px;height:22px;background:#000"></i><i style="left:333px;top:910px;width:1px;height:22px;background:#000"></i><i style="left:404px;top:910px;width:1px;height:22px;background:#000"></i><i style="left:476px;top:910px;width:1px;height:22px;background:#000"></i><i style="left:547px;top:910px;width:1px;height:22px;background:#000"></i><i style="left:614px;top:910px;width:1px;height:22px;background:#000"></i><i style="left:688px;top:910px;width:1px;height:22px;background:#000"></i><b style="left:0px;top:907px;width:28px;text-align:right">28</b><b style="left:33px;top:907px;width:116px;text-align:left">Mì Đệ nhất</b><b style="left:149px;top:907px;width:56px;text-align:center">đ/thùng</b><b class="n" style="left:206px;top:907px;width:64px;text-align:center">169,000</b><b class="n" style="left:270px;top:907px;width:64px;text-align:center">169,500</b><b class="n" style="left:334px;top:907px;width:71px;text-align:center">176,000</b><b class="n" style="left:405px;top:907px;width:72px;text-align:center">167,500</b><b class="n" style="left:477px;top:907px;width:71px;text-align:center">170,800</b><b class="n" style="left:548px;top:907px;width:67px;text-align:center">166,167</b><i class="d" style="left:1px;top:931px;width:687px;background-position:0px 0"></i><i style="left:30px;top:931px;width:1px;height:22px;background:#000"></i><i style="left:149px;top:931px;width:1px;height:22px;background:#000"></i><i style="left:205px;top:931px;width:1px;height:22px;background:#000"></i><i style="left:269px;top:931px;width:1px;height:22px;background:#000"></i><i style="left:333px;top:931px;width:1px;height:22px;background:#000"></i><i style="left:404px;top:931px;width:1px;height:22px;background:#000"></i><i style="left:476px;top:931px;width:1px;height:22px;background:#000"></i><i style="left:547px;top:931px;width:1px;height:22px;background:#000"></i><i style="left:614px;top:931px;width:1px;height:22px;background:#000"></i><i style="left:688px;top:931px;width:1px;height:22px;background:#000"></i><b style="left:0px;top:928px;width:28px;text-align:right">29</b><b style="left:33px;top:928px;width:116px;text-align:left">Mì Hảo Hảo</b><b style="left:149px;top:928px;width:56px;text-align:center">đ/thùng</b><b class="n" style="left:206px;top:928px;width:64px;text-align:center">102,000</b><b class="n" style="left:270px;top:928px;width:64px;text-align:center">103,000</b><b class="n" style="left:334px;top:928px;width:71px;text-align:center">106,000</b><b class="n" style="left:405px;top:928px;width:72px;text-align:center">112,500</b><b class="n" style="left:477px;top:928px;width:71px;text-align:center">102,833</b><b class="n" style="left:548px;top:928px;width:67px;text-align:center">102,200</b><i class="d" style="left:1px;top:952px;width:687px;background-position:2px 0"></i><i style="left:30px;top:952px;width:1px;height:22px;background:#000"></i><i style="left:149px;top:952px;width:1px;height:22px;background:#000"></i><i style="left:205px;top:952px;width:1px;height:22px;background:#000"></i><i style="left:269px;top:952px;width:1px;height:22px;background:#000"></i><i style="left:333px;top:952px;width:1px;height:22px;background:#000"></i><i style="left:404px;top:952px;width:1px;height:22px;background:#000"></i><i style="left:476px;top:952px;width:1px;height:22px;background:#000"></i><i style="left:547px;top:952px;width:1px;height:22px;background:#000"></i><i style="left:614px;top:952px;width:1px;height:22px;background:#000"></i><i style="left:688px;top:952px;width:1px;height:22px;background:#000"></i><b style="left:0px;top:949px;width:28px;text-align:right">30</b><b style="left:33px;top:949px;width:116px;text-align:left">Mì 3 Miền</b><b style="left:149px;top:949px;width:56px;text-align:center">đ/thùng</b><b class="n" style="left:206px;top:949px;width:64px;text-align:center">86,000</b><b class="n" style="left:270px;top:949px;width:64px;text-align:center">67,500</b><b class="n" style="left:334px;top:949px;width:71px;text-align:center">80,000</b><b class="n" style="left:405px;top:949px;width:72px;text-align:center">66,000</b><b class="n" style="left:477px;top:949px;width:71px;text-align:center">75,167</b><b class="n" style="left:548px;top:949px;width:67px;text-align:center">70,450</b><i class="d" style="left:1px;top:973px;width:687px;background-position:2px 0"></i><i style="left:30px;top:973px;width:1px;height:22px;background:#000"></i><i style="left:149px;top:973px;width:1px;height:22px;background:#000"></i><i style="left:205px;top:973px;width:1px;height:22px;background:#000"></i><i style="left:269px;top:973px;width:1px;height:22px;background:#000"></i><i style="left:333px;top:973px;width:1px;height:22px;background:#000"></i><i style="left:404px;top:973px;width:1px;height:22px;background:#000"></i><i style="left:476px;top:973px;width:1px;height:22px;background:#000"></i><i style="left:547px;top:973px;width:1px;height:22px;background:#000"></i><i style="left:614px;top:973px;width:1px;height:22px;background:#000"></i><i style="left:688px;top:973px;width:1px;height:22px;background:#000"></i><b style="left:0px;top:970px;width:28px;text-align:right">31</b><b style="left:33px;top:970px;width:116px;text-align:left">Mì Omachi</b><b style="left:149px;top:970px;width:56px;text-align:center">đ/thùng</b><b class="n" style="left:206px;top:970px;width:64px;text-align:center">211,000</b><b class="n" style="left:270px;top:970px;width:64px;text-align:center">206,000</b><b class="n" style="left:334px;top:970px;width:71px;text-align:center">210,000</b><b class="n" style="left:405px;top:970px;width:72px;text-align:center">189,375</b><b class="n" style="left:477px;top:970px;width:71px;text-align:center">190,000</b><b class="n" style="left:548px;top:970px;width:67px;text-align:center">187,000</b><i class="d" style="left:1px;top:994px;width:687px;background-position:0px 0"></i><i style="left:30px;top:994px;width:1px;height:22px;background:#000"></i><i style="left:149px;top:994px;width:1px;height:22px;background:#000"></i><i style="left:205px;top:994px;width:1px;height:22px;background:#000"></i><i style="left:269px;top:994px;width:1px;height:22px;background:#000"></i><i style="left:333px;top:994px;width:1px;height:22px;background:#000"></i><i style="left:404px;top:994px;width:1px;height:22px;background:#000"></i><i style="left:476px;top:994px;width:1px;height:22px;background:#000"></i><i style="left:547px;top:994px;width:1px;height:22px;background:#000"></i><i style="left:614px;top:994px;width:1px;height:22px;background:#000"></i><i style="left:688px;top:994px;width:1px;height:22px;background:#000"></i><b style="left:0px;top:991px;width:28px;text-align:right">32</b><b style="left:33px;top:991px;width:116px;text-align:left">Mì Kokomi</b><b style="left:149px;top:991px;width:56px;text-align:center">đ/thùng</b><b class="n" style="left:206px;top:991px;width:64px;text-align:center">107,000</b><b class="n" style="left:270px;top:991px;width:64px;text-align:center">72,600</b><b class="n" style="left:334px;top:991px;width:71px;text-align:center">112,000</b><b class="n" style="left:405px;top:991px;width:72px;text-align:center">140,833</b><b class="n" style="left:477px;top:991px;width:71px;text-align:center">74,000</b><b class="n" style="left:548px;top:991px;width:67px;text-align:center">88,500</b><i class="d" style="left:1px;top:1015px;width:687px;background-position:0px 0"></i><i style="left:30px;top:1015px;width:1px;height:22px;background:#000"></i><i style="left:149px;top:1015px;width:1px;height:22px;background:#000"></i><i style="left:205px;top:1015px;width:1px;height:22px;background:#000"></i><i style="left:269px;top:1015px;width:1px;height:22px;background:#000"></i><i style="left:333px;top:1015px;width:1px;height:22px;background:#000"></i><i style="left:404px;top:1015px;width:1px;height:22px;background:#000"></i><i style="left:476px;top:1015px;width:1px;height:22px;background:#000"></i><i style="left:547px;top:1015px;width:1px;height:22px;background:#000"></i><i style="left:614px;top:1015px;width:1px;height:22px;background:#000"></i><i style="left:688px;top:1015px;width:1px;height:22px;background:#000"></i><b style="left:0px;top:1012px;width:28px;text-align:right">33</b><b style="left:33px;top:1012px;width:116px;text-align:left">Mì Miliket</b><b style="left:149px;top:1012px;width:56px;text-align:center">đ/thùng</b><b class="n" style="left:206px;top:1012px;width:64px;text-align:center">130,000</b><b class="n" style="left:270px;top:1012px;width:64px;text-align:center">97,200</b><b class="n" style="left:334px;top:1012px;width:71px;text-align:center">132,000</b><b class="n" style="left:405px;top:1012px;width:72px;text-align:center">100,000</b><b class="n" style="left:477px;top:1012px;width:71px;text-align:center">91,000</b><b class="n" style="left:548px;top:1012px;width:67px;text-align:center">88,300</b><i class="d" style="left:1px;top:1036px;width:687px;background-position:2px 0"></i><i style="left:30px;top:1036px;width:1px;height:22px;background:#000"></i><i style="left:149px;top:1036px;width:1px;height:22px;background:#000"></i><i style="left:205px;top:1036px;width:1px;height:22px;background:#000"></i><i style="left:269px;top:1036px;width:1px;height:22px;background:#000"></i><i style="left:333px;top:1036px;width:1px;height:22px;background:#000"></i><i style="left:404px;top:1036px;width:1px;height:22px;background:#000"></i><i style="left:476px;top:1036px;width:1px;height:22px;background:#000"></i><i style="left:547px;top:1036px;width:1px;height:22px;background:#000"></i><i style="left:614px;top:1036px;width:1px;height:22px;background:#000"></i><i style="left:688px;top:1036px;width:1px;height:22px;background:#000"></i><b style="left:0px;top:1033px;width:28px;text-align:right">34</b><b style="left:33px;top:1033px;width:116px;text-align:left">Mì Gấu đỏ</b><b style="left:149px;top:1033px;width:56px;text-align:center">đ/thùng</b><b class="n" style="left:206px;top:1033px;width:64px;text-align:center">84,800</b><b class="n" style="left:270px;top:1033px;width:64px;text-align:center">87,700</b><b class="n" style="left:334px;top:1033px;width:71px;text-align:center">80,000</b><b class="n" style="left:405px;top:1033px;width:72px;text-align:center">71,500</b><b class="n" style="left:477px;top:1033px;width:71px;text-align:center">71,333</b><b class="n" style="left:548px;top:1033px;width:67px;text-align:center">66,900</b><i style="left:1px;top:1059px;width:203px;height:18px;background:#f2f2f2"></i><i style="left:207px;top:1059px;width:61px;height:18px;background:#f2f2f2"></i><i style="left:271px;top:1059px;width:61px;height:18px;background:#f2f2f2"></i><i style="left:335px;top:1059px;width:68px;height:18px;background:#f2f2f2"></i><i style="left:406px;top:1059px;width:69px;height:18px;background:#f2f2f2"></i><i style="left:478px;top:1059px;width:68px;height:18px;background:#f2f2f2"></i><i style="left:549px;top:1059px;width:64px;height:18px;background:#f2f2f2"></i><i style="left:616px;top:1059px;width:71px;height:18px;background:#f2f2f2"></i><i style="left:1px;top:1057px;width:688px;height:1px;background:#000"></i><i style="left:1px;top:1078px;width:688px;height:1px;background:#000"></i><i style="left:205px;top:1057px;width:1px;height:22px;background:#000"></i><i style="left:269px;top:1057px;width:1px;height:22px;background:#000"></i><i style="left:333px;top:1057px;width:1px;height:22px;background:#000"></i><i style="left:404px;top:1057px;width:1px;height:22px;background:#000"></i><i style="left:476px;top:1057px;width:1px;height:22px;background:#000"></i><i style="left:547px;top:1057px;width:1px;height:22px;background:#000"></i><i style="left:614px;top:1057px;width:1px;height:22px;background:#000"></i><i style="left:688px;top:1057px;width:1px;height:22px;background:#000"></i><b class="h" style="left:0px;top:1054px;width:205px;text-align:center">Gạo</b><i style="left:30px;top:1078px;width:1px;height:22px;background:#000"></i><i style="left:149px;top:1078px;width:1px;height:22px;background:#000"></i><i style="left:205px;top:1078px;width:1px;height:22px;background:#000"></i><i style="left:269px;top:1078px;width:1px;height:22px;background:#000"></i><i style="left:333px;top:1078px;width:1px;height:22px;background:#000"></i><i style="left:404px;top:1078px;width:1px;height:22px;background:#000"></i><i style="left:476px;top:1078px;width:1px;height:22px;background:#000"></i><i style="left:547px;top:1078px;width:1px;height:22px;background:#000"></i><i style="left:614px;top:1078px;width:1px;height:22px;background:#000"></i><i style="left:688px;top:1078px;width:1px;height:22px;background:#000"></i><b style="left:0px;top:1075px;width:28px;text-align:right">35</b><b style="left:33px;top:1075px;width:116px;text-align:left">Gạo tẻ thường</b><b style="left:152px;top:1075px;width:53px;text-align:left">đ/kg</b><b class="n" style="left:206px;top:1075px;width:64px;text-align:center">15,600</b><b class="n" style="left:334px;top:1075px;width:71px;text-align:center">17,000</b><b class="n" style="left:405px;top:1075px;width:72px;text-align:center">13,667</b><b class="n" style="left:477px;top:1075px;width:71px;text-align:center">13,000</b><b class="n" style="left:548px;top:1075px;width:67px;text-align:center">14,200</b><i style="left:1px;top:1101px;width:203px;height:18px;background:#f2f2f2"></i><i style="left:207px;top:1101px;width:61px;height:18px;background:#f2f2f2"></i><i style="left:271px;top:1101px;width:61px;height:18px;background:#f2f2f2"></i><i style="left:335px;top:1101px;width:68px;height:18px;background:#f2f2f2"></i><i style="left:406px;top:1101px;width:69px;height:18px;background:#f2f2f2"></i><i style="left:478px;top:1101px;width:68px;height:18px;background:#f2f2f2"></i><i style="left:549px;top:1101px;width:64px;height:18px;background:#f2f2f2"></i><i style="left:616px;top:1101px;width:71px;height:18px;background:#f2f2f2"></i><i style="left:1px;top:1099px;width:688px;height:1px;background:#000"></i><i style="left:1px;top:1120px;width:688px;height:1px;background:#000"></i><i style="left:205px;top:1099px;width:1px;height:22px;background:#000"></i><i style="left:269px;top:1099px;width:1px;height:22px;background:#000"></i><i style="left:333px;top:1099px;width:1px;height:22px;background:#000"></i><i style="left:404px;top:1099px;width:1px;height:22px;background:#000"></i><i style="left:476px;top:1099px;width:1px;height:22px;background:#000"></i><i style="left:547px;top:1099px;width:1px;height:22px;background:#000"></i><i style="left:614px;top:1099px;width:1px;height:22px;background:#000"></i><i style="left:688px;top:1099px;width:1px;height:22px;background:#000"></i><b class="h" style="left:0px;top:1096px;width:205px;text-align:center">Thịt các loại</b><i style="left:30px;top:1120px;width:1px;height:22px;background:#000"></i><i style="left:149px;top:1120px;width:1px;height:22px;background:#000"></i><i style="left:205px;top:1120px;width:1px;height:22px;background:#000"></i><i style="left:269px;top:1120px;width:1px;height:22px;background:#000"></i><i style="left:333px;top:1120px;width:1px;height:22px;background:#000"></i><i style="left:404px;top:1120px;width:1px;height:22px;background:#000"></i><i style="left:476px;top:1120px;width:1px;height:22px;background:#000"></i><i style="left:547px;top:1120px;width:1px;height:22px;background:#000"></i><i style="left:614px;top:1120px;width:1px;height:22px;background:#000"></i><i style="left:688px;top:1120px;width:1px;height:22px;background:#000"></i><b style="left:0px;top:1117px;width:28px;text-align:right">36</b><b style="left:33px;top:1117px;width:116px;text-align:left">Thịt heo</b><i class="d" style="left:1px;top:1141px;width:687px;background-position:2px 0"></i><i style="left:404px;top:1141px;width:73px;height:1px;background:#000"></i><i style="left:30px;top:1141px;width:1px;height:22px;background:#000"></i><i style="left:149px;top:1141px;width:1px;height:22px;background:#000"></i><i style="left:205px;top:1141px;width:1px;height:22px;background:#000"></i><i style="left:269px;top:1141px;width:1px;height:22px;background:#000"></i><i style="left:333px;top:1141px;width:1px;height:22px;background:#000"></i><i style="left:404px;top:1141px;width:1px;height:22px;background:#000"></i><i style="left:476px;top:1141px;width:1px;height:22px;background:#000"></i><i style="left:547px;top:1141px;width:1px;height:22px;background:#000"></i><i style="left:614px;top:1141px;width:1px;height:22px;background:#000"></i><i style="left:688px;top:1141px;width:1px;height:22px;background:#000"></i><b class="it" style="left:33px;top:1138px;width:116px;text-align:left">Thịt đùi</b><b style="left:149px;top:1138px;width:56px;text-align:center">đ/kg</b><b class="n" style="left:206px;top:1138px;width:64px;text-align:center">136,900</b><b class="n" style="left:270px;top:1138px;width:64px;text-align:center">161,000</b><b class="n" style="left:334px;top:1138px;width:71px;text-align:center">150,000</b><b class="n" style="left:405px;top:1138px;width:72px;text-align:center">136,667</b><b class="n" style="left:477px;top:1138px;width:71px;text-align:center">115,714</b><b class="n" style="left:548px;top:1138px;width:67px;text-align:center">120,500</b><b class="n" style="left:615px;top:1138px;width:74px;text-align:center">120,000</b><i class="d" style="left:1px;top:1162px;width:687px;background-position:0px 0"></i><i style="left:30px;top:1162px;width:1px;height:22px;background:#000"></i><i style="left:149px;top:1162px;width:1px;height:22px;background:#000"></i><i style="left:205px;top:1162px;width:1px;height:22px;background:#000"></i><i style="left:269px;top:1162px;width:1px;height:22px;background:#000"></i><i style="left:333px;top:1162px;width:1px;height:22px;background:#000"></i><i style="left:404px;top:1162px;width:1px;height:22px;background:#000"></i><i style="left:476px;top:1162px;width:1px;height:22px;background:#000"></i><i style="left:547px;top:1162px;width:1px;height:22px;background:#000"></i><i style="left:614px;top:1162px;width:1px;height:22px;background:#000"></i><i style="left:688px;top:1162px;width:1px;height:22px;background:#000"></i><b class="it" style="left:33px;top:1159px;width:116px;text-align:left">Thị ba rọi</b><b style="left:149px;top:1159px;width:56px;text-align:center">đ/kg</b><b class="n" style="left:206px;top:1159px;width:64px;text-align:center">200,000</b><b class="n" style="left:270px;top:1159px;width:64px;text-align:center">200,000</b><b class="n" style="left:334px;top:1159px;width:71px;text-align:center">165,000</b><b class="n" style="left:405px;top:1159px;width:72px;text-align:center">165,833</b><b class="n" style="left:477px;top:1159px;width:71px;text-align:center">132,857</b><b class="n" style="left:548px;top:1159px;width:67px;text-align:center">137,000</b><b class="n" style="left:615px;top:1159px;width:74px;text-align:center">160,000</b><i class="d" style="left:1px;top:1183px;width:687px;background-position:0px 0"></i><i style="left:30px;top:1183px;width:1px;height:22px;background:#000"></i><i style="left:149px;top:1183px;width:1px;height:22px;background:#000"></i><i style="left:205px;top:1183px;width:1px;height:22px;background:#000"></i><i style="left:269px;top:1183px;width:1px;height:22px;background:#000"></i><i style="left:333px;top:1183px;width:1px;height:22px;background:#000"></i><i style="left:404px;top:1183px;width:1px;height:22px;background:#000"></i><i style="left:476px;top:1183px;width:1px;height:22px;background:#000"></i><i style="left:547px;top:1183px;width:1px;height:22px;background:#000"></i><i style="left:614px;top:1183px;width:1px;height:22px;background:#000"></i><i style="left:688px;top:1183px;width:1px;height:22px;background:#000"></i><b style="left:0px;top:1180px;width:28px;text-align:right">37</b><b style="left:33px;top:1180px;width:116px;text-align:left">Thịt bò</b><b class="n" style="left:405px;top:1180px;width:72px;text-align:center">230,000</b><i class="d" style="left:1px;top:1204px;width:687px;background-position:2px 0"></i><i style="left:30px;top:1204px;width:1px;height:22px;background:#000"></i><i style="left:149px;top:1204px;width:1px;height:22px;background:#000"></i><i style="left:205px;top:1204px;width:1px;height:22px;background:#000"></i><i style="left:269px;top:1204px;width:1px;height:22px;background:#000"></i><i style="left:333px;top:1204px;width:1px;height:22px;background:#000"></i><i style="left:404px;top:1204px;width:1px;height:22px;background:#000"></i><i style="left:476px;top:1204px;width:1px;height:22px;background:#000"></i><i style="left:547px;top:1204px;width:1px;height:22px;background:#000"></i><i style="left:614px;top:1204px;width:1px;height:22px;background:#000"></i><i style="left:688px;top:1204px;width:1px;height:22px;background:#000"></i><b class="it" style="left:33px;top:1201px;width:116px;text-align:left">Thăn bò</b><b style="left:149px;top:1201px;width:56px;text-align:center">đ/kg</b><b class="n" style="left:206px;top:1201px;width:64px;text-align:center">415,000</b><b class="n" style="left:270px;top:1201px;width:64px;text-align:center">425,000</b><b class="n" style="left:334px;top:1201px;width:71px;text-align:center">305,000</b><b class="n" style="left:405px;top:1201px;width:72px;text-align:center">263,750</b><b class="n" style="left:477px;top:1201px;width:71px;text-align:center">278,333</b><b class="n" style="left:548px;top:1201px;width:67px;text-align:center">245,000</b><i class="d" style="left:1px;top:1225px;width:687px;background-position:2px 0"></i><i style="left:30px;top:1225px;width:1px;height:22px;background:#000"></i><i style="left:149px;top:1225px;width:1px;height:22px;background:#000"></i><i style="left:205px;top:1225px;width:1px;height:22px;background:#000"></i><i style="left:269px;top:1225px;width:1px;height:22px;background:#000"></i><i style="left:333px;top:1225px;width:1px;height:22px;background:#000"></i><i style="left:404px;top:1225px;width:1px;height:22px;background:#000"></i><i style="left:476px;top:1225px;width:1px;height:22px;background:#000"></i><i style="left:547px;top:1225px;width:1px;height:22px;background:#000"></i><i style="left:614px;top:1225px;width:1px;height:22px;background:#000"></i><i style="left:688px;top:1225px;width:1px;height:22px;background:#000"></i><b style="left:0px;top:1222px;width:28px;text-align:right">38</b><b style="left:33px;top:1222px;width:116px;text-align:left">Thịt gà</b><b class="n" style="left:405px;top:1222px;width:72px;text-align:center">0</b><i class="d" style="left:1px;top:1246px;width:687px;background-position:0px 0"></i><i style="left:30px;top:1246px;width:1px;height:22px;background:#000"></i><i style="left:149px;top:1246px;width:1px;height:22px;background:#000"></i><i style="left:205px;top:1246px;width:1px;height:22px;background:#000"></i><i style="left:269px;top:1246px;width:1px;height:22px;background:#000"></i><i style="left:333px;top:1246px;width:1px;height:22px;background:#000"></i><i style="left:404px;top:1246px;width:1px;height:22px;background:#000"></i><i style="left:476px;top:1246px;width:1px;height:22px;background:#000"></i><i style="left:547px;top:1246px;width:1px;height:22px;background:#000"></i><i style="left:614px;top:1246px;width:1px;height:22px;background:#000"></i><i style="left:688px;top:1246px;width:1px;height:22px;background:#000"></i><b class="it" style="left:33px;top:1243px;width:116px;text-align:left">Gà ta</b><b style="left:149px;top:1243px;width:56px;text-align:center">đ/kg</b><b class="n" style="left:206px;top:1243px;width:64px;text-align:center">84,000</b><b class="n" style="left:270px;top:1243px;width:64px;text-align:center">84,000</b><b class="n" style="left:334px;top:1243px;width:71px;text-align:center">99,000</b><b class="n" style="left:405px;top:1243px;width:72px;text-align:center">117,500</b><b class="n" style="left:477px;top:1243px;width:71px;text-align:center">97,857</b><b class="n" style="left:548px;top:1243px;width:67px;text-align:center">108,000</b><i class="d" style="left:1px;top:1267px;width:687px;background-position:0px 0"></i><i style="left:30px;top:1267px;width:1px;height:22px;background:#000"></i><i style="left:149px;top:1267px;width:1px;height:22px;background:#000"></i><i style="left:205px;top:1267px;width:1px;height:22px;background:#000"></i><i style="left:269px;top:1267px;width:1px;height:22px;background:#000"></i><i style="left:333px;top:1267px;width:1px;height:22px;background:#000"></i><i style="left:404px;top:1267px;width:1px;height:22px;background:#000"></i><i style="left:476px;top:1267px;width:1px;height:22px;background:#000"></i><i style="left:547px;top:1267px;width:1px;height:22px;background:#000"></i><i style="left:614px;top:1267px;width:1px;height:22px;background:#000"></i><i style="left:688px;top:1267px;width:1px;height:22px;background:#000"></i><b class="it" style="left:33px;top:1264px;width:116px;text-align:left">Gà công nghiệp</b><b style="left:149px;top:1264px;width:56px;text-align:center">đ/kg</b><b class="n" style="left:206px;top:1264px;width:64px;text-align:center">40,000</b><b class="n" style="left:270px;top:1264px;width:64px;text-align:center">40,000</b><b class="n" style="left:405px;top:1264px;width:72px;text-align:center">76,875</b><b class="n" style="left:477px;top:1264px;width:71px;text-align:center">59,286</b><b class="n" style="left:548px;top:1264px;width:67px;text-align:center">66,300</b><b class="n" style="left:615px;top:1264px;width:74px;text-align:center">76,000</b><i style="left:1px;top:1290px;width:203px;height:18px;background:#f2f2f2"></i><i style="left:207px;top:1290px;width:61px;height:18px;background:#f2f2f2"></i><i style="left:271px;top:1290px;width:61px;height:18px;background:#f2f2f2"></i><i style="left:335px;top:1290px;width:68px;height:18px;background:#f2f2f2"></i><i style="left:406px;top:1290px;width:69px;height:18px;background:#f2f2f2"></i><i style="left:478px;top:1290px;width:68px;height:18px;background:#f2f2f2"></i><i style="left:549px;top:1290px;width:64px;height:18px;background:#f2f2f2"></i><i style="left:616px;top:1290px;width:71px;height:18px;background:#f2f2f2"></i><i style="left:1px;top:1288px;width:688px;height:1px;background:#000"></i><i style="left:1px;top:1309px;width:688px;height:1px;background:#000"></i><i style="left:205px;top:1288px;width:1px;height:22px;background:#000"></i><i style="left:269px;top:1288px;width:1px;height:22px;background:#000"></i><i style="left:333px;top:1288px;width:1px;height:22px;background:#000"></i><i style="left:404px;top:1288px;width:1px;height:22px;background:#000"></i><i style="left:476px;top:1288px;width:1px;height:22px;background:#000"></i><i style="left:547px;top:1288px;width:1px;height:22px;background:#000"></i><i style="left:614px;top:1288px;width:1px;height:22px;background:#000"></i><i style="left:688px;top:1288px;width:1px;height:22px;background:#000"></i><b class="h" style="left:0px;top:1285px;width:205px;text-align:center">Cá, tôm các loại</b><i style="left:30px;top:1309px;width:1px;height:22px;background:#000"></i><i style="left:149px;top:1309px;width:1px;height:22px;background:#000"></i><i style="left:205px;top:1309px;width:1px;height:22px;background:#000"></i><i style="left:269px;top:1309px;width:1px;height:22px;background:#000"></i><i style="left:333px;top:1309px;width:1px;height:22px;background:#000"></i><i style="left:404px;top:1309px;width:1px;height:22px;background:#000"></i><i style="left:476px;top:1309px;width:1px;height:22px;background:#000"></i><i style="left:547px;top:1309px;width:1px;height:22px;background:#000"></i><i style="left:614px;top:1309px;width:1px;height:22px;background:#000"></i><i style="left:688px;top:1309px;width:1px;height:22px;background:#000"></i><b style="left:0px;top:1306px;width:28px;text-align:right">39</b><b style="left:33px;top:1306px;width:116px;text-align:left">Cá lóc</b><b style="left:149px;top:1306px;width:56px;text-align:center">đ/kg</b><b class="n" style="left:206px;top:1306px;width:64px;text-align:center">96,400</b><b class="n" style="left:270px;top:1306px;width:64px;text-align:center">86,400</b><b class="n" style="left:334px;top:1306px;width:71px;text-align:center">94,000</b><b class="n" style="left:405px;top:1306px;width:72px;text-align:center">83,500</b><b class="n" style="left:477px;top:1306px;width:71px;text-align:center">63,333</b><b class="n" style="left:548px;top:1306px;width:67px;text-align:center">63,100</b><i class="d" style="left:1px;top:1330px;width:687px;background-position:0px 0"></i><i style="left:30px;top:1330px;width:1px;height:22px;background:#000"></i><i style="left:149px;top:1330px;width:1px;height:22px;background:#000"></i><i style="left:205px;top:1330px;width:1px;height:22px;background:#000"></i><i style="left:269px;top:1330px;width:1px;height:22px;background:#000"></i><i style="left:333px;top:1330px;width:1px;height:22px;background:#000"></i><i style="left:404px;top:1330px;width:1px;height:22px;background:#000"></i><i style="left:476px;top:1330px;width:1px;height:22px;background:#000"></i><i style="left:547px;top:1330px;width:1px;height:22px;background:#000"></i><i style="left:614px;top:1330px;width:1px;height:22px;background:#000"></i><i style="left:688px;top:1330px;width:1px;height:22px;background:#000"></i><b style="left:0px;top:1327px;width:28px;text-align:right">40</b><b style="left:33px;top:1327px;width:116px;text-align:left">Cá diêu hồng</b><b style="left:149px;top:1327px;width:56px;text-align:center">đ/kg</b><b class="n" style="left:206px;top:1327px;width:64px;text-align:center">64,500</b><b class="n" style="left:270px;top:1327px;width:64px;text-align:center">91,000</b><b class="n" style="left:334px;top:1327px;width:71px;text-align:center">84,000</b><b class="n" style="left:405px;top:1327px;width:72px;text-align:center">78,500</b><b class="n" style="left:477px;top:1327px;width:71px;text-align:center">61,667</b><b class="n" style="left:548px;top:1327px;width:67px;text-align:center">59,800</b><b class="n" style="left:615px;top:1327px;width:74px;text-align:center">45,000</b><i class="d" style="left:1px;top:1351px;width:687px;background-position:0px 0"></i><i style="left:30px;top:1351px;width:1px;height:22px;background:#000"></i><i style="left:149px;top:1351px;width:1px;height:22px;background:#000"></i><i style="left:205px;top:1351px;width:1px;height:22px;background:#000"></i><i style="left:269px;top:1351px;width:1px;height:22px;background:#000"></i><i style="left:333px;top:1351px;width:1px;height:22px;background:#000"></i><i style="left:404px;top:1351px;width:1px;height:22px;background:#000"></i><i style="left:476px;top:1351px;width:1px;height:22px;background:#000"></i><i style="left:547px;top:1351px;width:1px;height:22px;background:#000"></i><i style="left:614px;top:1351px;width:1px;height:22px;background:#000"></i><i style="left:688px;top:1351px;width:1px;height:22px;background:#000"></i><b style="left:0px;top:1348px;width:28px;text-align:right">41</b><b style="left:33px;top:1348px;width:116px;text-align:left">Cá basa</b><b style="left:149px;top:1348px;width:56px;text-align:center">đ/kg</b><b class="n" style="left:206px;top:1348px;width:64px;text-align:center">48,200</b><b class="n" style="left:270px;top:1348px;width:64px;text-align:center">62,000</b><b class="n" style="left:334px;top:1348px;width:71px;text-align:center">54,000</b><b class="n" style="left:405px;top:1348px;width:72px;text-align:center">74,167</b><b class="n" style="left:477px;top:1348px;width:71px;text-align:center">53,333</b><b class="n" style="left:548px;top:1348px;width:67px;text-align:center">52,100</b><b class="n" style="left:615px;top:1348px;width:74px;text-align:center">45,000</b><i class="d" style="left:1px;top:1372px;width:687px;background-position:2px 0"></i><i style="left:30px;top:1372px;width:1px;height:22px;background:#000"></i><i style="left:149px;top:1372px;width:1px;height:22px;background:#000"></i><i style="left:205px;top:1372px;width:1px;height:22px;background:#000"></i><i style="left:269px;top:1372px;width:1px;height:22px;background:#000"></i><i style="left:333px;top:1372px;width:1px;height:22px;background:#000"></i><i style="left:404px;top:1372px;width:1px;height:22px;background:#000"></i><i style="left:476px;top:1372px;width:1px;height:22px;background:#000"></i><i style="left:547px;top:1372px;width:1px;height:22px;background:#000"></i><i style="left:614px;top:1372px;width:1px;height:22px;background:#000"></i><i style="left:688px;top:1372px;width:1px;height:22px;background:#000"></i><b style="left:0px;top:1369px;width:28px;text-align:right">42</b><b style="left:33px;top:1369px;width:116px;text-align:left">Cá ngừ</b><b style="left:149px;top:1369px;width:56px;text-align:center">đ/kg</b><b class="n" style="left:206px;top:1369px;width:64px;text-align:center">71,400</b><b class="n" style="left:270px;top:1369px;width:64px;text-align:center">87,000</b><b class="n" style="left:334px;top:1369px;width:71px;text-align:center">84,000</b><b class="n" style="left:405px;top:1369px;width:72px;text-align:center">78,500</b><b class="n" style="left:477px;top:1369px;width:71px;text-align:center">74,286</b><b class="n" style="left:548px;top:1369px;width:67px;text-align:center">53,200</b><i class="d" style="left:1px;top:1393px;width:687px;background-position:2px 0"></i><i style="left:30px;top:1393px;width:1px;height:22px;background:#000"></i><i style="left:149px;top:1393px;width:1px;height:22px;background:#000"></i><i style="left:205px;top:1393px;width:1px;height:22px;background:#000"></i><i style="left:269px;top:1393px;width:1px;height:22px;background:#000"></i><i style="left:333px;top:1393px;width:1px;height:22px;background:#000"></i><i style="left:404px;top:1393px;width:1px;height:22px;background:#000"></i><i style="left:476px;top:1393px;width:1px;height:22px;background:#000"></i><i style="left:547px;top:1393px;width:1px;height:22px;background:#000"></i><i style="left:614px;top:1393px;width:1px;height:22px;background:#000"></i><i style="left:688px;top:1393px;width:1px;height:22px;background:#000"></i><b style="left:0px;top:1390px;width:28px;text-align:right">43</b><b style="left:33px;top:1390px;width:116px;text-align:left">Cá nục</b><b style="left:149px;top:1390px;width:56px;text-align:center">đ/kg</b><b class="n" style="left:206px;top:1390px;width:64px;text-align:center">65,400</b><b class="n" style="left:270px;top:1390px;width:64px;text-align:center">75,000</b><b class="n" style="left:334px;top:1390px;width:71px;text-align:center">84,000</b><b class="n" style="left:405px;top:1390px;width:72px;text-align:center">81,500</b><b class="n" style="left:477px;top:1390px;width:71px;text-align:center">72,500</b><b class="n" style="left:548px;top:1390px;width:67px;text-align:center">53,000</b><b class="n" style="left:615px;top:1390px;width:74px;text-align:center">80,000</b><i class="d" style="left:1px;top:1414px;width:687px;background-position:0px 0"></i><i style="left:30px;top:1414px;width:1px;height:22px;background:#000"></i><i style="left:149px;top:1414px;width:1px;height:22px;background:#000"></i><i style="left:205px;top:1414px;width:1px;height:22px;background:#000"></i><i style="left:269px;top:1414px;width:1px;height:22px;background:#000"></i><i style="left:333px;top:1414px;width:1px;height:22px;background:#000"></i><i style="left:404px;top:1414px;width:1px;height:22px;background:#000"></i><i style="left:476px;top:1414px;width:1px;height:22px;background:#000"></i><i style="left:547px;top:1414px;width:1px;height:22px;background:#000"></i><i style="left:614px;top:1414px;width:1px;height:22px;background:#000"></i><i style="left:688px;top:1414px;width:1px;height:22px;background:#000"></i><b style="left:0px;top:1411px;width:28px;text-align:right">44</b><b style="left:33px;top:1411px;width:116px;text-align:left">Tôm sú</b><b style="left:149px;top:1411px;width:56px;text-align:center">đ/kg</b><b class="n" style="left:405px;top:1411px;width:72px;text-align:center">266,667</b><b class="n" style="left:477px;top:1411px;width:71px;text-align:center">282,857</b><b class="n" style="left:548px;top:1411px;width:67px;text-align:center">197,500</b><i class="d" style="left:1px;top:1435px;width:687px;background-position:0px 0"></i><i style="left:30px;top:1435px;width:1px;height:22px;background:#000"></i><i style="left:149px;top:1435px;width:1px;height:22px;background:#000"></i><i style="left:205px;top:1435px;width:1px;height:22px;background:#000"></i><i style="left:269px;top:1435px;width:1px;height:22px;background:#000"></i><i style="left:333px;top:1435px;width:1px;height:22px;background:#000"></i><i style="left:404px;top:1435px;width:1px;height:22px;background:#000"></i><i style="left:476px;top:1435px;width:1px;height:22px;background:#000"></i><i style="left:547px;top:1435px;width:1px;height:22px;background:#000"></i><i style="left:614px;top:1435px;width:1px;height:22px;background:#000"></i><i style="left:688px;top:1435px;width:1px;height:22px;background:#000"></i><b style="left:0px;top:1432px;width:28px;text-align:right">45</b><b style="left:33px;top:1432px;width:116px;text-align:left">Tôm thẻ</b><b style="left:149px;top:1432px;width:56px;text-align:center">đ/kg</b><b class="n" style="left:270px;top:1432px;width:64px;text-align:center">185,000</b><b class="n" style="left:334px;top:1432px;width:71px;text-align:center">189,000</b><b class="n" style="left:405px;top:1432px;width:72px;text-align:center">200,000</b><b class="n" style="left:477px;top:1432px;width:71px;text-align:center">180,000</b><b class="n" style="left:548px;top:1432px;width:67px;text-align:center">196,200</b><i style="left:1px;top:1458px;width:203px;height:18px;background:#f2f2f2"></i><i style="left:207px;top:1458px;width:61px;height:18px;background:#f2f2f2"></i><i style="left:271px;top:1458px;width:61px;height:18px;background:#f2f2f2"></i><i style="left:335px;top:1458px;width:68px;height:18px;background:#f2f2f2"></i><i style="left:406px;top:1458px;width:69px;height:18px;background:#f2f2f2"></i><i style="left:478px;top:1458px;width:68px;height:18px;background:#f2f2f2"></i><i style="left:549px;top:1458px;width:64px;height:18px;background:#f2f2f2"></i><i style="left:616px;top:1458px;width:71px;height:18px;background:#f2f2f2"></i><i style="left:1px;top:1456px;width:688px;height:1px;background:#000"></i><i style="left:1px;top:1477px;width:688px;height:1px;background:#000"></i><i style="left:205px;top:1456px;width:1px;height:22px;background:#000"></i><i style="left:269px;top:1456px;width:1px;height:22px;background:#000"></i><i style="left:333px;top:1456px;width:1px;height:22px;background:#000"></i><i style="left:404px;top:1456px;width:1px;height:22px;background:#000"></i><i style="left:476px;top:1456px;width:1px;height:22px;background:#000"></i><i style="left:547px;top:1456px;width:1px;height:22px;background:#000"></i><i style="left:614px;top:1456px;width:1px;height:22px;background:#000"></i><i style="left:688px;top:1456px;width:1px;height:22px;background:#000"></i><b class="h" style="left:0px;top:1453px;width:205px;text-align:center">Trứng</b><i style="left:30px;top:1477px;width:1px;height:22px;background:#000"></i><i style="left:149px;top:1477px;width:1px;height:22px;background:#000"></i><i style="left:205px;top:1477px;width:1px;height:22px;background:#000"></i><i style="left:269px;top:1477px;width:1px;height:22px;background:#000"></i><i style="left:333px;top:1477px;width:1px;height:22px;background:#000"></i><i style="left:404px;top:1477px;width:1px;height:22px;background:#000"></i><i style="left:476px;top:1477px;width:1px;height:22px;background:#000"></i><i style="left:547px;top:1477px;width:1px;height:22px;background:#000"></i><i style="left:614px;top:1477px;width:1px;height:22px;background:#000"></i><i style="left:688px;top:1477px;width:1px;height:22px;background:#000"></i><b style="left:0px;top:1474px;width:28px;text-align:right">46</b><b style="left:33px;top:1474px;width:116px;text-align:left">Trứng gà</b><b style="left:149px;top:1474px;width:56px;text-align:center">đ/chục</b><b class="n" style="left:206px;top:1474px;width:64px;text-align:center">28,000</b><b class="n" style="left:270px;top:1474px;width:64px;text-align:center">28,000</b><b class="n" style="left:334px;top:1474px;width:71px;text-align:center">31,000</b><b class="n" style="left:405px;top:1474px;width:72px;text-align:center">39,000</b><b class="n" style="left:477px;top:1474px;width:71px;text-align:center">27,200</b><b class="n" style="left:548px;top:1474px;width:67px;text-align:center">31,200</b><i class="d" style="left:1px;top:1498px;width:687px;background-position:0px 0"></i><i style="left:30px;top:1498px;width:1px;height:22px;background:#000"></i><i style="left:149px;top:1498px;width:1px;height:22px;background:#000"></i><i style="left:205px;top:1498px;width:1px;height:22px;background:#000"></i><i style="left:269px;top:1498px;width:1px;height:22px;background:#000"></i><i style="left:333px;top:1498px;width:1px;height:22px;background:#000"></i><i style="left:404px;top:1498px;width:1px;height:22px;background:#000"></i><i style="left:476px;top:1498px;width:1px;height:22px;background:#000"></i><i style="left:547px;top:1498px;width:1px;height:22px;background:#000"></i><i style="left:614px;top:1498px;width:1px;height:22px;background:#000"></i><i style="left:688px;top:1498px;width:1px;height:22px;background:#000"></i><b style="left:0px;top:1495px;width:28px;text-align:right">47</b><b style="left:33px;top:1495px;width:116px;text-align:left">Trứng vịt</b><b style="left:149px;top:1495px;width:56px;text-align:center">đ/chục</b><b class="n" style="left:206px;top:1495px;width:64px;text-align:center">33,000</b><b class="n" style="left:270px;top:1495px;width:64px;text-align:center">33,000</b><b class="n" style="left:334px;top:1495px;width:71px;text-align:center">40,000</b><b class="n" style="left:405px;top:1495px;width:72px;text-align:center">44,250</b><b class="n" style="left:477px;top:1495px;width:71px;text-align:center">39,000</b><b class="n" style="left:548px;top:1495px;width:67px;text-align:center">36,600</b><i style="left:1px;top:1519px;width:688px;height:1px;background:#000"></i><i style="left:30px;top:1520px;width:1px;height:38px;background:#d0d0d0"></i><i style="left:149px;top:1520px;width:1px;height:38px;background:#d0d0d0"></i><i style="left:205px;top:1520px;width:1px;height:38px;background:#d0d0d0"></i><i style="left:269px;top:1520px;width:1px;height:38px;background:#d0d0d0"></i><i style="left:333px;top:1520px;width:1px;height:38px;background:#d0d0d0"></i><i style="left:404px;top:1520px;width:1px;height:38px;background:#d0d0d0"></i><i style="left:476px;top:1520px;width:1px;height:38px;background:#d0d0d0"></i><i style="left:547px;top:1520px;width:1px;height:38px;background:#d0d0d0"></i><i style="left:614px;top:1520px;width:1px;height:38px;background:#d0d0d0"></i><i style="left:30px;top:1557px;width:1px;height:82px;background:#d0d0d0"></i><i style="left:1px;top:1557px;width:687px;height:1px;background:#d0d0d0"></i><i style="left:1px;top:1610px;width:687px;height:1px;background:#d0d0d0"></i><b style="left:33px;top:1533px;width:367px;text-align:left">GHI CHÚ:</b><b style="left:33px;top:1559px;width:655px;text-align:left">Các loại rau, củ, quả canh tác trong điều kiện thường, thuỷ canh, theo tiêu chuẩn VietGap (không phải rau,</b><b style="left:33px;top:1580px;width:655px;text-align:left">củ, quả hữu cơ);</b><b style="left:33px;top:1609px;width:655px;text-align:left">Giá tham khảo chỉ có giá trị trong ngày.</b><i style="left:0px;top:0px;width:1px;height:1639px;background:#d0d0d0"></i><i style="left:688px;top:0px;width:1px;height:89px;background:#d0d0d0"></i><i style="left:688px;top:1520px;width:1px;height:119px;background:#d0d0d0"></i><i style="left:0px;top:0px;width:689px;height:1px;background:#d0d0d0"></i><i style="left:0px;top:1638px;width:689px;height:1px;background:#d0d0d0"></i>
</body></html>
